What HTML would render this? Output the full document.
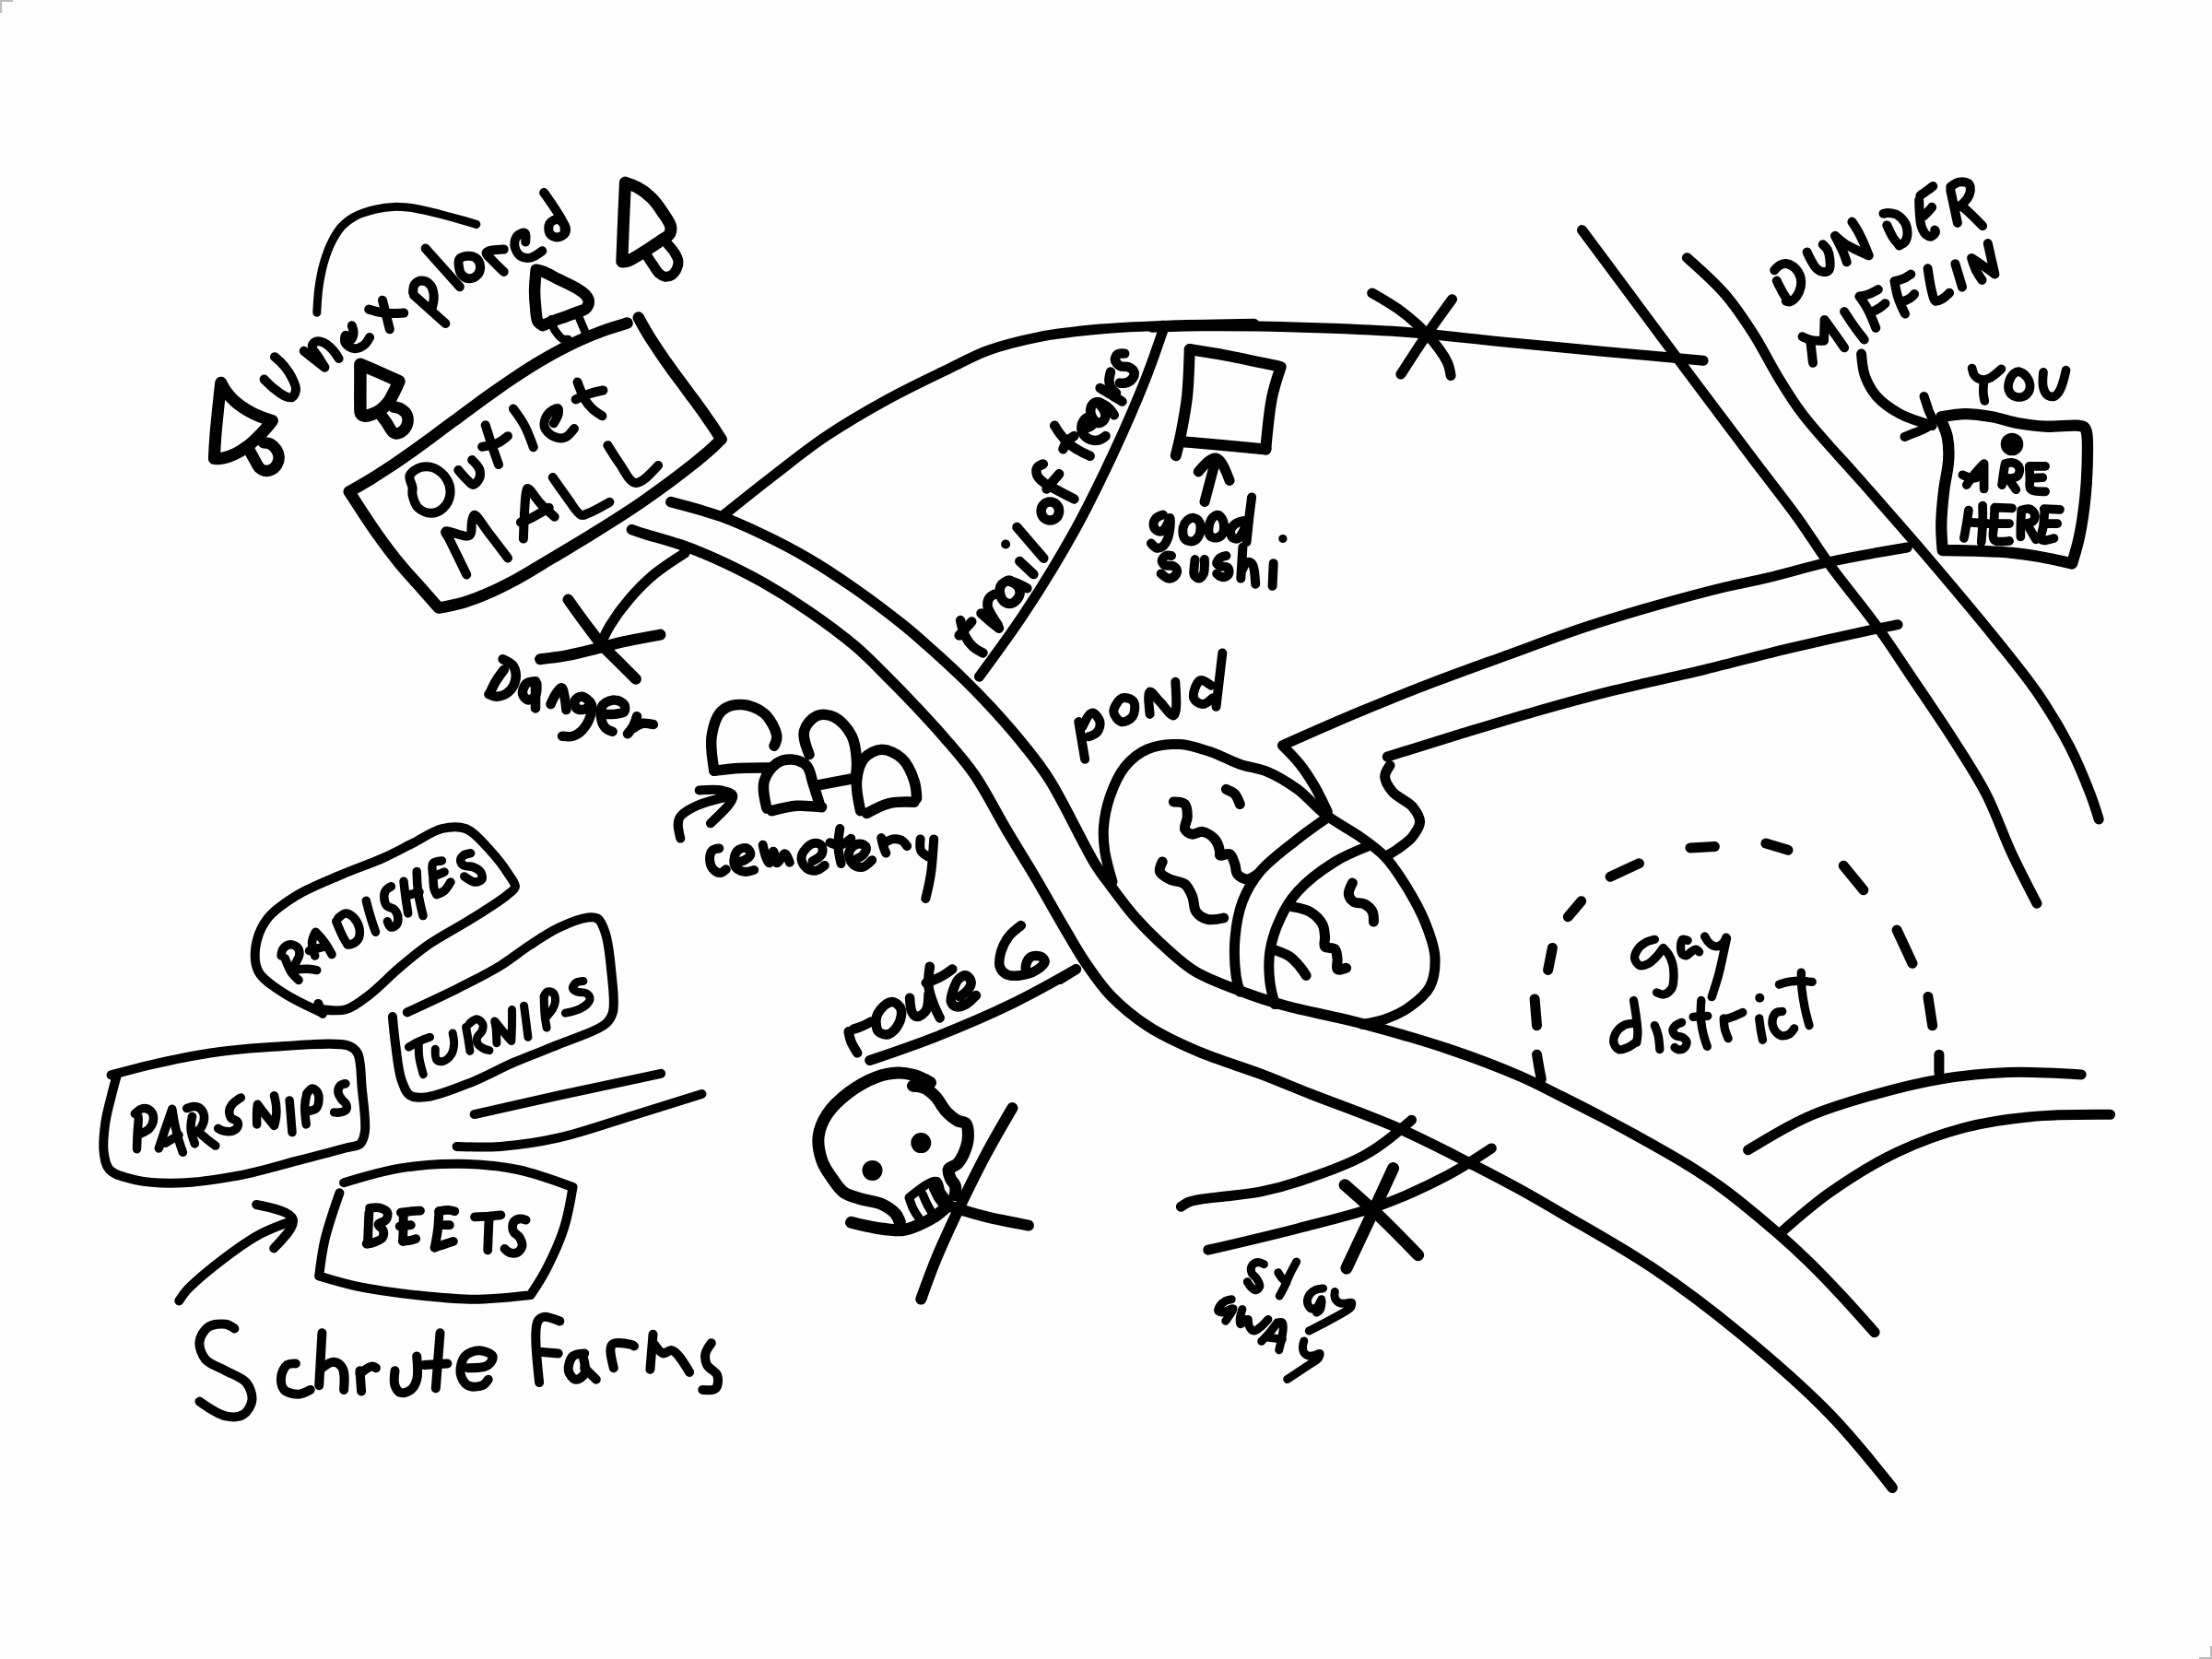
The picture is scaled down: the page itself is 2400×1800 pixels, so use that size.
<!DOCTYPE html>
<html><head><meta charset="utf-8"><style>
html,body{margin:0;padding:0;background:#fefefe;}
body{width:2400px;height:1800px;overflow:hidden;position:relative;font-family:"Liberation Sans",sans-serif;}
svg{position:absolute;left:0;top:0;}
</style></head><body>
<svg width="2400" height="1800" viewBox="0 0 2400 1800" xmlns="http://www.w3.org/2000/svg">
<rect x="0" y="0" width="2400" height="1800" fill="#fefefe"/>
<g fill="none" stroke="#bdbdbd" stroke-width="2"><path d="M1,14V1H14"/><path d="M2386,1799H2399V1786"/></g>
<g fill="none" stroke="#000" stroke-linecap="round" stroke-linejoin="round">
<path d="M239.7,415.2C241.1,418.0 242.6,420.9 244.7,423.9C247.4,427.6 251.0,432.0 254.8,435.4C258.7,439.0 263.3,442.1 267.9,444.8C272.5,447.6 277.6,450.1 282.3,452.1C286.7,453.9 291.0,455.2 295.4,456.4C293.6,458.7 291.9,461.0 289.6,463.7C286.6,467.1 282.4,471.7 278.7,475.2C275.2,478.6 271.8,481.8 267.9,484.6C263.8,487.6 259.2,490.5 254.8,492.6C250.8,494.5 246.5,496.1 242.5,496.9C239.1,497.7 235.7,497.7 232.4,497.6C232.7,490.1 233.1,482.5 233.9,472.3C235.1,457.1 237.4,436.1 239.7,415.2Z" stroke-width="13"/>
<path d="M270.0,487.5C271.7,490.6 273.3,493.7 275.1,496.9C277.1,500.4 279.3,505.5 281.6,507.8C283.2,509.3 284.8,510.3 286.7,510.7C288.8,511.1 291.7,510.9 293.9,509.9C296.3,508.9 299.0,506.5 300.4,504.2C301.9,501.7 302.7,498.3 302.6,495.5C302.4,492.7 301.2,489.8 299.7,487.5C298.1,485.2 295.6,482.9 293.2,481.7C291.0,480.6 288.5,480.5 285.9,480.3" stroke-width="12.5"/>
<path d="M390.9,395.2C397.6,398.0 404.3,400.9 411.2,403.9C418.3,407.0 425.6,410.3 432.9,413.6C431.6,416.8 430.2,420.0 428.5,423.4C426.5,427.5 424.1,432.7 421.3,436.4C418.7,439.8 415.7,442.9 412.6,445.1C409.9,447.1 406.8,448.4 403.9,449.4C401.3,450.4 398.2,451.6 396.0,451.2C394.3,451.0 392.6,450.2 391.6,448.7C390.3,446.5 391.1,442.1 390.9,437.9C390.7,431.9 390.9,423.3 390.9,416.2C390.9,409.1 390.9,402.2 390.9,395.2Z" stroke-width="13.5"/>
<path d="M412.6,449.4C414.8,452.3 417.0,455.1 419.1,458.1C421.4,461.3 423.4,466.2 425.6,468.2C427.1,469.5 428.3,470.4 430.0,470.4C432.2,470.5 435.9,468.7 437.9,466.8C440.0,464.9 441.7,461.6 442.3,458.8C442.8,456.1 442.7,452.7 441.5,450.2C440.4,447.6 437.5,445.1 435.0,443.7C432.7,442.3 429.9,441.9 427.1,441.5" stroke-width="12.5"/>
<path d="M581.7,292.7C584.2,293.2 586.8,293.7 589.8,294.9C594.2,296.6 599.8,299.9 605.2,302.6C611.4,305.7 619.6,309.1 625.1,312.5C629.4,315.2 633.7,317.7 635.9,320.7C637.7,322.9 639.0,325.5 638.8,327.9C638.7,330.4 636.8,333.5 635.0,335.2C633.4,336.7 631.3,336.8 628.7,337.9C624.9,339.4 619.2,341.5 614.2,343.3C609.2,345.1 603.4,346.9 598.9,348.7C595.2,350.2 592.1,351.7 588.9,353.2C586.9,352.1 584.8,351.0 583.5,348.7C581.7,345.5 581.8,339.4 581.2,334.2C580.6,328.6 580.1,322.6 580.1,316.2C580.1,308.8 580.9,300.8 581.7,292.7Z" stroke-width="12.5"/>
<path d="M598.4,346.5C598.8,349.4 599.1,352.4 600.2,355.0C601.4,357.8 603.4,360.5 605.2,362.7C606.9,364.7 608.6,366.8 610.6,367.7C612.4,368.5 614.5,368.3 616.5,368.2" stroke-width="9"/>
<path d="M627.8,343.3C629.4,347.0 630.9,350.8 632.3,354.1C633.6,357.0 634.7,359.7 635.8,362.3" stroke-width="9"/>
<path d="M678.4,198.1C682.6,199.4 686.8,200.7 691.1,203.1C696.2,205.8 701.9,209.9 706.5,214.4C711.3,219.0 715.5,225.1 719.1,230.6C722.5,235.7 727.0,241.6 727.7,246.0C728.2,249.0 727.7,251.9 726.4,254.1C724.9,256.5 722.6,257.2 719.1,259.6C711.5,264.8 688.7,280.3 681.2,283.1C678.3,284.1 676.6,284.0 674.8,284.0C675.4,268.7 676.0,253.4 676.6,238.8C677.2,224.9 677.8,211.5 678.4,198.1Z" stroke-width="13"/>
<path d="M702.0,277.6C704.4,281.4 706.8,285.1 709.2,288.5C711.3,291.6 713.1,295.1 715.5,297.1C717.4,298.7 719.6,300.0 721.8,300.3C724.1,300.5 727.0,299.8 729.1,298.4C731.3,296.9 733.4,293.8 734.5,291.2C735.6,288.7 736.2,285.8 735.9,283.1C735.5,280.1 733.6,276.9 731.8,274.0C729.9,270.9 727.2,267.9 724.6,265.0" stroke-width="11"/>
<path d="M343.8,339.2C344.2,330.2 344.7,321.1 345.9,312.1C347.2,303.0 348.9,293.6 351.4,285.0C353.8,276.8 356.8,268.4 360.4,261.5C363.6,255.4 366.9,249.8 371.3,245.2C375.4,240.8 380.2,237.3 385.7,234.4C392.0,231.1 400.3,228.8 407.4,227.1C414.1,225.6 420.4,224.6 427.3,224.4C434.8,224.2 442.8,225.0 450.8,226.2C459.6,227.6 469.3,230.4 478.0,232.5C486.1,234.6 494.5,236.9 501.5,238.9C507.1,240.5 512.0,241.9 516.8,243.4" stroke-width="9"/>
<path d="M298.0,387.2C301.5,390.1 304.9,393.1 308.0,396.7C311.2,400.6 314.5,405.3 316.7,409.8C318.7,413.9 321.2,418.6 321.0,422.4C320.8,425.6 319.2,430.0 317.0,431.1C315.0,432.2 311.7,430.8 308.9,429.7C305.2,428.1 300.8,424.5 297.1,421.5C293.4,418.5 290.0,415.0 286.6,411.6" stroke-width="10"/>
<path d="M352.3,398.6C349.1,396.0 345.8,393.5 342.3,390.8C338.4,387.7 334.0,384.3 329.7,380.8" stroke-width="10"/>
<path d="M352.3,398.6C350.2,395.1 348.1,391.7 345.9,388.1C343.6,384.3 338.7,379.5 338.7,376.3C338.8,374.1 340.5,371.7 342.3,370.9C344.5,369.9 348.5,370.6 351.4,371.8C354.6,373.1 357.7,376.2 360.4,379.0C363.2,381.9 365.4,385.4 367.6,389.0" stroke-width="10"/>
<path d="M381.8,353.3C382.8,356.1 383.8,358.9 383.6,361.5C383.4,364.0 382.1,368.2 380.7,368.5C379.3,368.9 376.3,363.2 375.2,363.7C374.1,364.1 373.4,369.5 374.5,371.8C375.8,374.5 380.6,377.7 383.9,378.1C387.3,378.6 391.9,376.6 394.8,374.5C397.6,372.5 399.3,369.2 401.1,366.0" stroke-width="10"/>
<path d="M415.0,325.7L422.8,357.3" stroke-width="10"/>
<path d="M400.2,335.6C405.2,337.1 410.2,338.5 414.7,339.2C418.5,339.9 421.8,340.1 425.5,340.1C429.6,340.2 433.9,339.9 438.2,339.6" stroke-width="10"/>
<path d="M449.0,320.3L483.4,351.0" stroke-width="10"/>
<path d="M448.1,317.5C448.2,314.1 448.3,310.7 449.9,308.5C451.6,306.3 455.3,304.5 458.1,304.5C461.0,304.6 465.0,306.8 467.1,309.4C469.4,312.2 470.4,317.1 470.7,321.2C471.0,325.3 470.0,329.5 468.9,333.8" stroke-width="10"/>
<path d="M461.7,269.6L498.8,311.2" stroke-width="10"/>
<path d="M498.2,281.4C499.6,279.3 503.9,278.1 506.9,277.8C509.8,277.5 513.6,277.9 515.9,279.6C518.4,281.4 520.7,285.5 521.0,288.6C521.3,291.8 519.9,296.3 517.7,298.6C515.7,300.7 511.6,302.4 508.7,302.2C505.9,302.0 502.4,299.9 500.6,297.6C498.7,295.4 498.2,291.5 497.8,288.6C497.5,286.1 497.0,283.2 498.2,281.4Z" stroke-width="10"/>
<path d="M546.7,294.9C542.9,291.3 539.1,287.7 535.8,284.1C532.8,280.8 526.9,276.4 527.7,274.1C528.7,271.4 537.7,270.9 546.7,270.5" stroke-width="10"/>
<path d="M570.2,262.4C570.5,258.1 570.9,253.8 569.3,252.8C567.7,251.9 563.0,254.0 561.1,256.1C559.1,258.4 557.9,263.4 558.4,266.9C559.0,270.6 561.7,275.7 564.8,277.8C567.6,279.7 572.0,280.2 575.6,279.6C579.8,278.8 584.0,275.6 588.3,272.3" stroke-width="10"/>
<path d="M590.1,209.0C599.6,222.4 609.1,235.7 611.8,243.4C613.0,246.9 612.8,249.2 612.7,251.5" stroke-width="10"/>
<path d="M596.4,242.5C597.8,240.1 601.9,237.8 604.5,238.0C607.3,238.2 611.3,241.7 612.7,244.3C613.9,246.7 614.4,250.6 613.2,252.8C611.9,255.1 607.4,257.5 604.5,257.5C601.8,257.5 597.8,255.7 596.4,253.3C594.9,250.8 594.9,245.1 596.4,242.5Z" stroke-width="10"/>
<path d="M447.5,528.9C447.1,525.1 443.2,519.6 444.5,516.0C445.9,512.2 452.0,508.4 456.5,507.0C461.0,505.7 466.8,506.1 471.4,508.0C476.5,510.3 482.5,515.9 485.3,521.0C487.9,525.6 489.0,531.9 488.3,536.9C487.6,541.8 484.9,547.5 481.3,550.8C477.9,554.1 472.1,556.8 467.4,556.8C462.8,556.8 456.8,554.1 453.5,550.8C450.2,547.5 448.4,540.9 447.5,536.9C446.9,533.9 447.9,531.9 447.5,528.9Z" stroke-width="10"/>
<path d="M497.3,510.0C500.7,514.1 504.2,518.1 507.2,521.0C509.4,523.0 511.1,526.0 513.2,525.9C515.4,525.8 519.0,521.8 520.1,519.0C521.3,516.1 521.2,512.2 520.1,509.0C518.9,505.5 515.5,502.3 512.2,499.1" stroke-width="10"/>
<path d="M526.7,461.3C529.6,470.4 532.4,479.5 535.0,487.1C537.2,493.4 539.1,498.7 541.0,504.1" stroke-width="10"/>
<path d="M523.1,484.8C528.7,484.0 534.3,483.2 539.0,481.2C543.5,479.3 547.2,476.2 551.0,473.2" stroke-width="10"/>
<path d="M556.9,443.4C561.1,449.0 565.3,454.7 568.9,461.3C572.7,468.5 575.8,476.8 578.8,485.2" stroke-width="10"/>
<path d="M600.7,459.3C602.9,455.8 605.1,452.4 605.7,449.3C606.1,447.1 606.2,443.6 605.1,443.0C603.4,442.2 596.1,446.9 593.7,450.3C591.4,453.7 589.7,459.5 590.7,463.3C591.8,467.2 596.8,471.7 600.7,473.6C604.2,475.3 609.0,476.0 612.6,474.8C616.5,473.5 619.8,469.2 623.0,464.9" stroke-width="10"/>
<path d="M626.5,414.5C629.0,421.4 631.5,428.3 634.5,433.4C636.9,437.5 639.4,440.4 642.5,443.4C645.6,446.4 649.5,448.9 653.4,451.3" stroke-width="10"/>
<path d="M624.6,433.4C629.1,431.3 633.6,429.1 638.5,427.5C643.5,425.8 649.0,424.6 654.4,423.5" stroke-width="10"/>
<path d="M506.2,623.4C498.7,608.0 491.3,592.7 487.3,584.6C485.5,581.0 482.3,578.0 483.3,576.7C485.1,574.3 504.7,584.2 509.2,581.0C512.8,578.5 510.9,568.8 512.2,564.7C512.9,562.2 513.3,558.9 514.8,558.8C517.5,558.4 523.8,569.9 529.1,576.7C535.7,585.1 543.3,595.3 551.0,605.5" stroke-width="10"/>
<path d="M567.9,584.6C568.6,563.7 569.4,542.8 570.8,534.9C571.3,532.3 571.3,530.1 572.4,529.9C574.7,529.5 581.8,541.6 586.8,546.8C591.5,551.8 596.6,556.3 601.7,560.7" stroke-width="10"/>
<path d="M564.9,566.7C569.5,564.9 574.0,563.2 578.8,560.7C584.3,558.0 590.0,554.4 595.7,550.8" stroke-width="10"/>
<path d="M599.7,518.0C604.6,525.0 609.5,532.1 614.6,538.9C619.7,545.6 625.6,557.1 630.5,558.8C633.3,559.7 635.2,558.0 638.5,556.8C644.2,554.6 652.8,549.7 661.4,544.8" stroke-width="10"/>
<path d="M659.4,483.2C663.4,489.8 667.5,496.5 672.3,503.1C677.4,510.1 682.6,523.1 689.2,523.9C696.3,524.8 705.2,514.9 714.1,505.0" stroke-width="10"/>
<path d="M774.9,836.3C772.7,823.1 770.4,809.8 772.2,798.4C773.8,788.4 777.0,776.8 783.1,771.2C788.4,766.3 797.4,764.2 804.8,764.5C812.7,764.7 822.9,768.5 829.2,774.0C835.7,779.6 841.9,791.7 842.7,798.4C843.3,802.6 841.7,805.9 840.0,809.2" stroke-width="11.5"/>
<path d="M774.9,836.3C783.7,835.3 792.5,834.2 802.1,833.6C812.7,833.0 824.3,833.1 836.0,833.1" stroke-width="11.5"/>
<path d="M878.0,818.7C874.4,809.5 870.8,800.2 872.6,792.9C874.2,786.4 880.5,779.1 886.1,776.7C891.5,774.4 899.3,775.2 905.1,778.0C912.2,781.4 920.1,790.4 924.1,798.4C928.2,806.3 929.0,817.2 929.5,825.5C930.0,832.4 929.1,838.4 928.2,844.5" stroke-width="11.5"/>
<path d="M883.4,852.6L926.8,844.5" stroke-width="11.5"/>
<path d="M831.9,877.0C829.4,866.4 826.9,855.7 829.2,847.2C831.2,839.7 837.2,832.0 842.7,828.2C847.4,825.0 853.7,823.7 859.0,824.1C864.5,824.6 871.5,826.9 875.3,830.9C879.4,835.2 879.9,843.3 882.1,849.9C884.4,856.9 886.6,864.2 888.9,871.6" stroke-width="11.5"/>
<path d="M837.3,879.7C846.3,877.4 855.4,875.0 864.4,874.3C873.4,873.7 882.5,874.7 891.6,875.7" stroke-width="11.5"/>
<path d="M933.6,879.7C931.1,868.5 928.6,857.2 929.5,847.2C930.4,838.4 932.7,828.5 937.7,822.8C942.2,817.6 950.1,813.5 956.7,813.3C963.6,813.1 972.6,817.5 978.4,822.8C984.6,828.5 989.3,839.3 991.9,847.2C994.1,853.7 994.4,859.9 994.6,866.2" stroke-width="11.5"/>
<path d="M940.4,882.5C948.3,878.1 956.3,873.6 964.8,871.6C973.4,869.6 982.7,869.9 991.9,870.3" stroke-width="11.5"/>
<path d="M738.3,909.6C736.3,901.6 734.2,893.7 737.0,887.9C739.8,881.9 748.1,878.1 755.9,874.3C766.1,869.4 780.0,866.4 793.9,863.5" stroke-width="10"/>
<path d="M758.7,857.5C767.6,856.7 776.5,856.0 783.1,857.5C788.0,858.6 794.5,860.0 795.3,863.5C796.5,869.3 783.7,881.3 770.9,893.3" stroke-width="10"/>
<path d="M785.8,558.4C804.3,543.5 822.9,528.7 841.4,514.4C859.5,500.5 876.2,486.8 895.6,473.8C916.6,459.6 940.6,445.6 963.4,433.1C985.8,420.8 1011.5,408.7 1031.2,399.2C1046.5,391.8 1057.1,385.5 1071.9,380.2C1088.5,374.2 1107.0,369.6 1126.2,365.8C1147.4,361.7 1171.4,359.2 1194.0,357.1C1216.6,355.1 1237.1,354.3 1261.8,353.3C1291.7,352.2 1326.3,351.7 1360.8,351.2" stroke-width="11"/>
<path d="M1062.4,734.2C1079.2,711.5 1096.0,688.9 1112.6,663.6C1130.9,635.9 1150.6,603.6 1166.9,574.1C1182.0,546.7 1194.8,520.0 1207.6,492.7C1220.1,465.8 1233.0,436.2 1242.8,411.4C1250.9,390.8 1257.0,372.6 1263.2,354.4" stroke-width="11"/>
<path d="M1250.0,355.2C1266.5,354.5 1283.1,353.9 1304.2,353.8C1334.2,353.6 1376.6,354.1 1412.7,355.2C1448.9,356.2 1485.1,357.4 1521.2,360.0C1557.5,362.7 1593.6,367.4 1629.7,370.9C1665.9,374.4 1702.0,377.8 1738.2,381.2C1774.7,384.6 1811.4,387.9 1848.1,391.2" stroke-width="11"/>
<path d="M1488.7,318.0C1499.9,324.4 1511.2,330.8 1521.2,338.3C1531.0,345.7 1540.3,353.7 1548.4,362.7C1556.5,371.8 1566.0,384.0 1570.1,392.6C1572.7,398.1 1573.4,402.8 1574.1,407.5" stroke-width="11"/>
<path d="M1575.5,324.8C1566.4,337.2 1557.4,349.6 1548.4,362.7C1538.9,376.6 1529.4,391.4 1519.9,406.1" stroke-width="11"/>
<path d="M1290.7,379.0C1303.7,381.0 1316.6,383.0 1331.4,385.8C1349.1,389.1 1369.4,393.6 1389.7,398.0C1386.2,408.5 1382.6,419.0 1380.2,430.6C1377.5,443.3 1375.9,460.7 1374.8,471.2C1374.1,477.9 1373.7,482.7 1373.4,487.5" stroke-width="12"/>
<path d="M1290.7,379.0C1290.2,396.7 1289.7,414.4 1288.0,430.6C1286.4,445.0 1283.5,459.6 1281.2,471.2C1279.4,480.1 1277.6,487.2 1275.8,494.3" stroke-width="12"/>
<path d="M1285.3,479.4C1300.8,480.7 1316.4,482.1 1331.4,483.5C1345.7,484.8 1359.6,486.2 1373.4,487.5" stroke-width="12"/>
<path d="M1307.0,544.5L1319.2,498.4" stroke-width="11"/>
<path d="M1300.2,511.9C1306.9,504.0 1313.7,496.0 1319.2,497.0C1325.1,498.1 1329.6,509.8 1334.1,521.4" stroke-width="11"/>
<path d="M2019.6,384.1C2020.2,392.2 2020.8,400.3 2023.4,407.8C2026.2,415.6 2030.3,423.4 2036.1,430.0C2042.5,437.3 2051.9,443.8 2061.4,449.0C2071.7,454.6 2084.0,458.1 2096.2,461.6" stroke-width="11"/>
<path d="M1207.0,956.7C1203.7,945.6 1200.4,934.6 1198.8,924.1C1197.4,914.7 1196.7,906.4 1197.5,897.0C1198.3,886.6 1200.6,875.1 1204.2,864.4C1208.1,853.3 1213.3,840.7 1220.5,831.9C1227.2,823.8 1235.4,817.0 1244.9,812.9C1255.1,808.5 1268.7,807.0 1280.2,807.5C1291.3,808.0 1302.0,812.1 1312.7,815.6C1323.7,819.3 1334.6,825.5 1345.3,829.2C1355.3,832.6 1365.2,833.2 1375.1,837.3C1386.1,841.9 1397.4,848.8 1407.7,856.3C1418.3,864.1 1426.6,875.1 1437.5,883.4C1449.1,892.3 1464.1,899.7 1475.5,907.8C1485.5,915.0 1494.6,921.1 1502.6,929.5C1510.9,938.2 1517.4,948.4 1524.3,959.4C1532.0,971.7 1540.5,986.5 1546.0,1000.1C1551.1,1012.7 1556.2,1025.8 1556.9,1038.0C1557.5,1049.2 1556.2,1061.5 1551.4,1070.6C1546.9,1079.4 1537.9,1086.4 1529.7,1092.3C1521.6,1098.1 1511.6,1102.7 1502.6,1105.9C1494.4,1108.8 1486.3,1110.0 1478.2,1111.3" stroke-width="11"/>
<path d="M1437.5,888.9C1427.9,895.5 1418.2,902.2 1407.7,910.6C1395.0,920.7 1377.3,933.4 1367.0,945.8C1358.4,956.2 1352.5,966.5 1348.0,978.4C1343.3,990.8 1341.0,1005.4 1339.9,1019.1C1338.8,1032.6 1339.8,1049.3 1341.2,1059.7C1342.2,1066.5 1343.7,1071.2 1345.3,1076.0" stroke-width="11"/>
<path d="M1486.3,917.3C1473.6,922.3 1460.8,927.3 1448.4,935.0C1434.5,943.6 1418.0,956.0 1407.7,967.5C1399.2,977.0 1393.6,986.6 1388.7,997.4C1383.6,1008.3 1379.6,1021.0 1377.8,1032.6C1376.2,1043.6 1376.7,1055.2 1377.8,1065.2C1378.8,1074.0 1381.0,1081.8 1383.3,1089.6" stroke-width="11"/>
<path d="M1508.0,830.5C1505.3,834.5 1502.5,838.4 1502.6,842.7C1502.7,847.8 1506.6,854.0 1510.8,859.0C1515.8,865.1 1527.4,869.2 1532.5,875.3C1536.6,880.3 1540.6,886.1 1540.6,891.6C1540.6,897.0 1536.3,903.0 1532.5,907.8C1528.3,913.1 1521.5,917.6 1516.2,921.4C1511.6,924.7 1507.1,927.1 1502.6,929.5" stroke-width="11"/>
<path d="M1273.4,869.9C1278.3,870.0 1283.1,870.0 1285.6,872.6C1288.3,875.3 1288.3,881.6 1288.3,886.1C1288.3,890.7 1284.3,896.5 1285.6,899.7C1286.8,902.4 1290.7,904.6 1293.8,905.1C1297.0,905.7 1300.9,901.9 1304.6,902.4C1309.0,903.1 1315.0,906.8 1318.2,910.6C1321.2,914.1 1323.0,920.9 1323.6,924.1C1323.9,925.8 1322.8,927.5 1323.6,928.2C1325.0,929.4 1331.8,925.4 1334.4,926.8C1337.3,928.4 1338.5,934.0 1339.9,937.7C1341.2,941.2 1340.4,945.8 1342.6,948.5C1344.8,951.3 1349.8,954.0 1353.4,954.0C1357.1,954.0 1360.7,951.2 1364.3,948.5" stroke-width="11"/>
<path d="M1330.4,856.3C1333.9,857.7 1337.4,859.1 1339.9,861.7C1342.5,864.5 1343.9,868.5 1345.3,872.6" stroke-width="11"/>
<path d="M1261.2,935.0C1259.3,938.9 1257.4,942.8 1258.5,945.8C1259.7,949.2 1265.2,951.8 1269.3,954.0C1274.1,956.4 1281.5,956.1 1285.6,959.4C1289.6,962.5 1291.7,968.1 1293.8,972.9C1295.8,978.0 1294.9,985.1 1297.8,989.2C1300.5,993.1 1305.4,996.1 1310.0,997.4C1315.2,998.7 1321.4,997.4 1327.7,996.0" stroke-width="11"/>
<path d="M1467.4,958.0C1465.1,962.4 1462.8,966.7 1463.3,970.2C1463.7,973.3 1466.1,976.6 1468.7,978.4C1471.7,980.4 1477.5,979.2 1480.9,981.1C1484.2,982.9 1487.5,986.0 1489.1,989.2C1490.6,992.4 1490.5,996.2 1490.4,1000.1" stroke-width="11"/>
<path d="M1402.3,983.8C1409.0,984.9 1415.8,986.0 1421.2,989.2C1426.6,992.4 1432.2,997.8 1434.8,1002.8C1437.1,1007.0 1437.1,1012.1 1437.5,1016.3C1437.9,1020.1 1435.8,1024.9 1437.5,1027.2C1439.3,1029.5 1446.1,1027.6 1448.4,1029.9C1450.6,1032.2 1450.6,1037.1 1451.1,1040.8C1451.5,1044.3 1449.4,1050.1 1451.1,1051.6C1452.7,1053.0 1456.6,1051.6 1460.6,1050.3" stroke-width="11"/>
<path d="M1380.6,1029.9C1387.5,1032.2 1394.4,1034.5 1399.5,1038.0C1404.0,1041.1 1407.3,1045.3 1410.4,1048.9C1413.1,1052.1 1415.1,1055.2 1417.2,1058.4" stroke-width="11"/>
<path d="M1150.0,1062.5L1167.6,1051.6" stroke-width="11"/>
<path d="M1170.3,783.1L1177.1,823.8" stroke-width="10"/>
<path d="M1174.4,788.5C1178.1,781.1 1181.8,773.7 1185.3,773.6C1188.1,773.5 1192.6,779.6 1193.4,783.1C1194.2,786.4 1192.7,791.2 1190.7,793.9C1188.7,796.6 1184.9,798.0 1181.2,799.3" stroke-width="10"/>
<path d="M1208.3,772.2C1208.1,767.7 1213.8,758.7 1217.8,757.3C1221.3,756.1 1228.1,758.4 1230.0,761.4C1232.2,764.7 1231.2,774.0 1228.7,777.6C1226.3,780.9 1219.8,784.0 1216.5,783.1C1213.0,782.2 1208.5,776.2 1208.3,772.2Z" stroke-width="10"/>
<path d="M1247.6,774.9C1246.4,763.3 1245.1,751.6 1247.6,750.5C1249.7,749.7 1254.6,757.5 1258.5,761.4C1263.1,766.0 1270.4,777.5 1273.4,776.3C1277.4,774.8 1276.4,757.2 1275.3,739.7" stroke-width="10"/>
<path d="M1314.1,743.7C1309.5,740.4 1305.0,737.0 1301.9,738.3C1298.1,739.9 1293.7,752.9 1295.1,757.3C1296.2,760.7 1301.3,763.9 1304.6,764.1C1308.2,764.2 1312.1,760.8 1316.0,757.3" stroke-width="10"/>
<path d="M1326.3,708.5L1319.5,766.8" stroke-width="10"/>
<path d="M1310.8,1356.2C1343.8,1348.6 1376.7,1341.0 1408.5,1332.7C1439.3,1324.7 1470.8,1317.6 1498.9,1307.4C1524.7,1298.0 1550.0,1286.1 1571.2,1274.9C1588.9,1265.5 1603.6,1255.7 1618.3,1245.9" stroke-width="11"/>
<path d="M1459.1,1285.7C1471.0,1296.1 1482.9,1306.5 1495.3,1318.3C1509.3,1331.5 1524.0,1346.6 1538.7,1361.7" stroke-width="13"/>
<path d="M1511.6,1267.6C1503.9,1284.2 1496.2,1300.8 1488.1,1318.3C1479.4,1336.9 1470.2,1356.5 1460.9,1376.1" stroke-width="13"/>
<path d="M1896.6,1247.8C1917.7,1234.8 1938.9,1221.7 1961.7,1211.7C1984.7,1201.5 2009.7,1194.4 2034.0,1187.6C2058.0,1180.8 2082.1,1174.7 2106.3,1170.7C2130.3,1166.7 2153.9,1164.3 2178.7,1163.4C2204.5,1162.5 2231.4,1164.2 2258.2,1165.9" stroke-width="11"/>
<path d="M1932.7,1337.0C1949.5,1322.2 1966.2,1307.4 1985.8,1293.6C2007.5,1278.3 2033.4,1262.0 2058.1,1250.2C2081.7,1239.0 2106.0,1230.2 2130.4,1223.7C2154.3,1217.4 2177.5,1214.1 2202.8,1211.7C2230.3,1209.0 2259.9,1209.1 2289.6,1209.3" stroke-width="11"/>
<path d="M1667.5,1144.2C1668.3,1149.1 1669.1,1154.0 1669.9,1158.6C1670.7,1162.8 1671.5,1166.8 1672.3,1170.7" stroke-width="11"/>
<path d="M1665.1,1083.9L1667.5,1112.8" stroke-width="11"/>
<path d="M1684.4,1028.4L1679.6,1052.5" stroke-width="11"/>
<path d="M1701.3,994.7L1715.7,977.8" stroke-width="11"/>
<path d="M1747.1,951.3L1778.4,936.8" stroke-width="11"/>
<path d="M1833.9,919.9L1860.4,918.5" stroke-width="11"/>
<path d="M1915.9,915.1L1940.0,922.3" stroke-width="11"/>
<path d="M2000.2,939.2L2021.9,965.7" stroke-width="11"/>
<path d="M2058.1,1009.1L2075.0,1045.3" stroke-width="11"/>
<path d="M2091.9,1081.5L2096.7,1112.8" stroke-width="11"/>
<path d="M2103.9,1144.2L2103.9,1163.4" stroke-width="11"/>
<path d="M348.4,1098.4C333.0,1091.4 317.7,1084.4 305.7,1076.2C295.7,1069.4 285.0,1062.7 280.4,1054.1C276.4,1046.5 276.1,1037.5 277.2,1028.7C278.5,1018.6 283.0,1006.3 289.9,997.1C297.3,987.1 309.4,979.3 321.5,971.8C335.3,963.2 353.1,956.5 369.0,949.6C384.7,942.8 402.3,937.0 416.5,930.6C428.2,925.4 437.6,920.1 448.1,914.8C458.6,909.5 469.5,901.4 479.7,899.0C488.4,896.9 497.1,896.0 505.1,899.0C514.2,902.4 522.6,912.9 530.4,921.1C538.5,929.7 547.6,941.8 552.5,949.6C555.6,954.5 559.5,958.6 558.9,962.3C558.3,965.9 553.8,968.1 549.4,971.8C541.1,978.5 524.9,988.6 511.4,997.1C496.6,1006.5 477.9,1015.9 463.9,1025.6C452.0,1033.9 442.7,1042.0 432.3,1050.9C421.6,1060.0 410.9,1071.6 400.6,1079.4C392.0,1085.9 384.1,1092.7 375.3,1095.2C367.2,1097.5 358.6,1096.4 350.0,1095.2" stroke-width="10"/>
<path d="M345.3,1088.9L350.0,1099.9" stroke-width="10"/>
<path d="M425.9,1103.1C426.8,1112.8 427.7,1122.6 429.1,1133.2C430.7,1145.1 432.0,1161.1 435.4,1171.1C437.9,1178.3 440.1,1185.4 444.9,1188.5C449.7,1191.6 456.3,1191.0 463.9,1190.1C476.3,1188.6 495.7,1180.5 511.4,1174.3C527.4,1167.9 542.9,1159.0 558.9,1152.2C574.6,1145.3 590.3,1139.9 606.3,1133.2C623.0,1126.2 647.9,1118.9 657.0,1111.0C661.7,1106.9 663.3,1104.2 664.9,1098.4C667.6,1088.3 664.7,1068.5 663.3,1054.1C662.0,1040.0 660.2,1023.2 657.0,1012.9C654.8,1006.2 652.8,999.8 649.1,997.1C646.1,994.9 642.5,995.1 638.0,995.5C630.1,996.3 616.6,1001.7 606.3,1006.6C595.5,1011.7 585.1,1018.8 574.7,1025.6C564.0,1032.5 554.9,1040.4 543.0,1047.7C529.0,1056.3 512.0,1064.8 495.6,1073.0C478.3,1081.7 460.0,1090.0 441.8,1098.4" stroke-width="10"/>
<path d="M120.6,1166.4C134.1,1162.7 147.6,1158.9 163.3,1155.3C182.3,1151.0 205.4,1145.8 226.6,1142.7C247.6,1139.5 267.0,1137.7 289.9,1136.3C316.9,1134.7 364.3,1129.7 378.5,1134.7C383.8,1136.6 385.6,1138.4 388.0,1142.7C392.1,1150.2 391.4,1167.2 392.7,1180.6C394.2,1195.6 397.5,1217.4 395.9,1228.1C395.0,1233.8 394.2,1237.9 391.1,1240.8C387.7,1244.0 382.2,1243.6 375.3,1245.5C362.7,1249.1 340.2,1254.9 321.5,1259.7C301.3,1265.0 279.4,1271.6 258.2,1275.6C237.2,1279.5 214.5,1282.9 194.9,1283.5C178.0,1284.0 161.1,1283.3 147.5,1280.3C136.6,1277.9 124.7,1275.2 119.0,1269.2C114.4,1264.4 113.6,1257.5 112.7,1250.3C111.4,1241.1 112.8,1229.3 114.2,1218.6C115.8,1207.2 119.8,1193.4 122.2,1183.8C123.9,1177.0 125.4,1171.7 126.9,1166.4" stroke-width="10"/>
<path d="M514.6,1209.1C544.4,1202.3 574.3,1195.6 606.3,1188.5C641.5,1180.8 679.3,1172.8 717.1,1164.8" stroke-width="10"/>
<path d="M495.6,1243.9C510.8,1244.6 526.1,1245.2 543.0,1243.9C562.7,1242.5 584.2,1239.4 606.3,1234.4C631.4,1228.8 659.4,1218.7 685.4,1210.7C711.0,1202.9 736.2,1194.9 761.4,1187.0" stroke-width="10"/>
<path d="M373.1,1283.2C393.5,1277.0 414.0,1270.8 434.8,1267.4C455.6,1264.0 477.0,1262.4 498.1,1262.7C519.2,1262.9 540.8,1264.7 561.4,1269.0C581.9,1273.2 601.7,1280.6 621.5,1288.0C619.1,1302.9 616.7,1317.7 612.0,1332.3C607.3,1347.3 599.7,1363.6 593.0,1376.6C587.5,1387.3 581.6,1396.2 575.6,1405.1C555.1,1407.4 534.6,1409.8 513.9,1409.8C493.0,1409.8 471.7,1407.4 450.6,1405.1C429.5,1402.7 406.1,1399.5 387.3,1395.6C372.1,1392.4 359.1,1388.4 346.2,1384.5C347.7,1371.7 349.3,1358.8 352.5,1344.9C356.3,1329.0 362.3,1311.6 368.4,1294.3" stroke-width="10"/>
<path d="M194.3,1411.4C196.7,1407.5 199.1,1403.7 203.8,1398.7C212.4,1389.6 231.2,1374.3 244.9,1363.9C257.6,1354.4 270.2,1345.4 282.9,1338.6C294.5,1332.5 306.1,1328.4 317.7,1324.4" stroke-width="10"/>
<path d="M278.2,1307.0C296.6,1310.7 315.1,1314.5 317.7,1322.8C320.2,1330.6 308.7,1342.5 297.2,1354.4" stroke-width="10"/>
<path d="M254.4,1441.5C251.6,1439.4 248.8,1437.3 244.9,1436.7C239.8,1435.9 230.7,1436.6 225.9,1439.9C221.3,1443.0 217.1,1450.0 216.5,1455.7C215.8,1461.6 218.6,1469.6 222.8,1474.7C227.5,1480.5 237.6,1483.1 244.9,1487.3C252.3,1491.6 262.4,1494.2 267.1,1500.0C271.3,1505.1 274.1,1513.1 273.4,1519.0C272.8,1524.7 268.6,1531.9 263.9,1534.8C259.2,1537.8 251.7,1537.8 244.9,1536.4C236.1,1534.5 226.3,1527.5 216.5,1520.6" stroke-width="10"/>
<path d="M320.9,1479.4C317.4,1479.3 313.9,1479.2 311.4,1481.0C308.3,1483.3 305.6,1489.2 305.1,1493.7C304.5,1498.2 305.3,1504.7 308.2,1507.9C311.4,1511.3 319.1,1512.8 324.1,1512.7C328.5,1512.5 332.6,1510.2 336.7,1507.9" stroke-width="10"/>
<path d="M349.4,1446.2L346.2,1503.2" stroke-width="10"/>
<path d="M349.4,1484.2C353.8,1480.9 358.2,1477.6 362.0,1477.8C365.5,1478.1 369.5,1480.7 371.5,1484.2C374.4,1489.2 373.8,1498.6 373.1,1507.9" stroke-width="10"/>
<path d="M392.1,1509.5L390.5,1487.3" stroke-width="10"/>
<path d="M390.5,1490.5C395.2,1486.7 399.9,1483.0 403.2,1482.6C405.1,1482.4 406.5,1483.3 407.9,1484.2" stroke-width="10"/>
<path d="M428.5,1487.3C427.7,1493.2 427.0,1499.0 428.5,1503.2C429.7,1506.5 432.0,1510.2 434.8,1511.1C437.8,1512.0 443.0,1510.2 445.9,1507.9C448.9,1505.5 451.0,1501.5 452.2,1496.8C454.0,1490.3 453.1,1480.9 452.2,1471.5" stroke-width="10"/>
<path d="M477.5,1446.2L472.8,1506.3" stroke-width="10"/>
<path d="M460.1,1481.0L485.4,1479.4" stroke-width="10"/>
<path d="M507.6,1484.2C516.5,1484.2 525.4,1484.2 529.7,1481.0C532.8,1478.8 535.4,1474.0 534.5,1471.5C533.4,1468.5 525.1,1465.3 520.3,1465.2C515.1,1465.1 507.9,1467.6 504.4,1471.5C500.7,1475.7 498.8,1485.0 499.7,1490.5C500.4,1495.3 503.7,1501.0 507.6,1503.2C511.6,1505.4 519.6,1504.8 523.4,1503.2C526.3,1502.0 528.0,1499.4 529.7,1496.8" stroke-width="10"/>
<path d="M585.1,1500.0C582.1,1471.3 579.1,1442.6 583.5,1433.5C585.1,1430.4 587.1,1429.3 589.9,1428.8C594.1,1428.0 600.7,1430.8 607.3,1433.5" stroke-width="10"/>
<path d="M585.1,1466.8L605.7,1468.4" stroke-width="10"/>
<path d="M634.2,1468.4C629.3,1468.6 624.4,1468.8 621.5,1471.5C618.3,1474.6 615.9,1482.9 616.8,1487.3C617.6,1491.2 621.7,1496.4 624.7,1496.8C627.5,1497.2 632.6,1493.8 634.2,1490.5C636.3,1486.2 634.4,1478.9 632.6,1471.5" stroke-width="10"/>
<path d="M634.2,1484.2L646.8,1496.8" stroke-width="10"/>
<path d="M665.8,1484.2C663.2,1473.5 660.5,1462.9 664.2,1458.9C667.6,1455.3 681.0,1458.0 684.8,1458.9C686.4,1459.2 687.2,1459.8 688.0,1460.4" stroke-width="10"/>
<path d="M705.4,1485.8L708.5,1447.8" stroke-width="10"/>
<path d="M710.1,1458.9C713.2,1463.2 716.2,1467.5 719.6,1468.4C722.6,1469.1 725.8,1464.2 729.1,1465.2C734.9,1466.9 741.5,1477.9 748.1,1488.9" stroke-width="10"/>
<path d="M771.8,1457.3C769.1,1460.8 766.3,1464.4 765.5,1468.4C764.7,1472.3 765.2,1477.2 767.1,1481.0C769.1,1485.2 776.6,1487.7 778.2,1492.1C779.6,1496.2 779.2,1503.7 776.6,1506.3C773.9,1509.0 768.1,1508.4 762.3,1507.9" stroke-width="10"/>
<path d="M743.0,600.0C731.7,607.2 720.3,614.3 710.1,622.8C700.0,631.2 690.5,641.0 682.3,650.6C674.6,659.6 667.3,669.7 662.0,678.5C657.7,685.6 654.8,692.2 651.9,698.7" stroke-width="11"/>
<path d="M616.5,650.6C623.3,660.2 630.1,669.7 636.7,678.5C642.7,686.5 648.5,694.6 654.4,701.3C659.5,707.0 664.2,711.0 669.6,716.5C675.9,722.7 682.9,729.7 689.9,736.7" stroke-width="12"/>
<path d="M586.1,715.2C595.2,714.2 604.3,713.2 613.9,711.4C624.5,709.5 636.1,706.4 646.8,703.8C657.2,701.3 666.4,698.6 677.2,696.2C689.4,693.5 702.9,691.1 716.5,688.6" stroke-width="12"/>
<path d="M546.8,726.6C543.7,730.8 540.5,734.9 538.0,739.2C535.5,743.4 533.6,747.6 531.6,751.9" stroke-width="10.5"/>
<path d="M545.6,715.2C550.1,717.2 554.6,719.2 557.0,722.8C559.3,726.4 560.2,732.2 559.5,736.7C558.7,741.5 555.5,747.5 551.9,750.6C548.6,753.6 543.1,755.5 539.2,755.7C536.1,755.9 533.2,754.5 530.4,753.2" stroke-width="10.5"/>
<path d="M581.0,739.2C577.1,739.4 573.2,739.6 570.9,741.8C568.4,744.1 566.4,750.1 567.1,753.2C567.7,755.8 571.1,759.3 573.4,759.5C575.7,759.7 579.5,757.0 581.0,754.4C582.8,751.4 582.6,746.6 582.3,741.8" stroke-width="10.5"/>
<path d="M581.0,744.3L581.0,768.4" stroke-width="10.5"/>
<path d="M597.5,764.1C599.5,759.5 601.5,755.0 603.8,751.9C605.5,749.5 607.9,746.0 609.4,746.3C611.1,746.7 611.8,753.2 612.7,757.0C613.6,761.1 614.0,765.6 614.4,770.1" stroke-width="10.5"/>
<path d="M640.5,762.0C637.5,759.0 634.6,755.9 631.6,755.7C629.1,755.5 625.1,757.4 624.1,759.5C622.9,761.6 623.6,766.7 625.3,768.4C627.0,770.0 631.4,770.2 634.2,769.6C636.9,769.0 640.6,763.8 641.8,764.6C643.2,765.4 641.9,773.0 640.5,777.2C638.9,782.2 635.2,788.7 631.6,792.4C628.7,795.4 625.2,797.7 621.5,798.7C618.0,799.8 614.0,799.2 610.1,798.7" stroke-width="10.5"/>
<path d="M651.9,774.7C657.2,775.0 662.6,775.2 667.1,774.7C670.8,774.2 675.7,774.1 677.2,772.2C678.5,770.5 678.5,766.6 677.2,764.6C675.7,762.1 670.7,759.6 667.1,759.5C663.1,759.3 657.0,761.5 654.4,764.6C652.0,767.5 651.5,773.1 651.9,777.2C652.3,781.5 654.4,787.1 657.0,789.9C659.0,792.0 661.8,792.9 664.6,793.7" stroke-width="10.5"/>
<path d="M681.0,796.2C683.3,793.4 685.7,790.5 687.3,787.3C689.0,784.2 690.1,780.7 691.1,777.2" stroke-width="10.5"/>
<path d="M687.3,789.9C690.6,787.7 693.9,785.4 697.5,784.8C701.1,784.2 705.0,785.1 708.9,786.1" stroke-width="10.5"/>
<path d="M943.7,1150.5C967.4,1142.5 991.1,1134.5 1015.6,1124.8C1042.1,1114.3 1071.1,1102.1 1097.0,1089.5C1121.6,1077.6 1144.6,1064.6 1167.5,1051.5" stroke-width="11"/>
<path d="M930.2,1142.4C927.6,1138.3 925.0,1134.3 923.4,1130.2C922.0,1126.6 921.3,1123.0 920.7,1119.3" stroke-width="10.5"/>
<path d="M926.1,1116.6C928.7,1115.9 931.4,1115.1 934.2,1113.9C937.7,1112.5 941.4,1110.5 945.1,1108.5" stroke-width="10.5"/>
<path d="M961.4,1089.5C957.7,1092.0 952.4,1098.0 951.1,1103.1C949.8,1108.0 950.5,1116.3 953.2,1119.3C955.5,1121.9 960.7,1123.0 964.1,1122.1C968.0,1121.0 972.7,1115.6 974.9,1111.2C977.3,1106.6 979.1,1099.1 977.6,1094.9C976.5,1091.5 972.4,1088.1 969.5,1087.3C967.0,1086.7 964.0,1087.8 961.4,1089.5Z" stroke-width="10.5"/>
<path d="M987.1,1082.7C987.5,1089.2 987.8,1095.6 989.9,1099.0C991.2,1101.2 993.2,1103.1 995.3,1103.1C998.0,1103.1 1002.7,1099.7 1004.8,1096.3C1007.3,1092.1 1007.4,1085.4 1007.5,1078.7" stroke-width="10.5"/>
<path d="M1008.8,1048.8C1007.8,1056.2 1006.7,1063.6 1007.5,1070.5C1008.2,1077.1 1010.8,1083.6 1012.9,1089.5C1014.9,1094.9 1017.3,1099.6 1019.7,1104.4" stroke-width="10.5"/>
<path d="M1004.8,1066.5C1010.5,1064.4 1016.1,1062.3 1021.0,1059.7C1025.5,1057.3 1029.4,1054.4 1033.3,1051.5" stroke-width="10.5"/>
<path d="M1041.4,1081.4C1045.1,1078.8 1048.9,1076.3 1050.9,1073.2C1052.6,1070.7 1054.0,1067.6 1053.6,1065.1C1053.2,1062.6 1050.4,1058.8 1048.2,1058.3C1045.9,1057.8 1042.2,1060.2 1040.0,1062.4C1037.5,1064.9 1036.0,1069.3 1034.6,1073.2C1033.2,1077.4 1030.9,1083.5 1031.9,1086.8C1032.6,1089.3 1035.0,1091.6 1037.3,1092.2C1040.2,1093.0 1044.8,1091.3 1048.2,1089.5C1052.1,1087.5 1055.5,1083.8 1059.0,1080.0" stroke-width="10.5"/>
<path d="M1107.8,1004.1C1102.9,1007.8 1097.9,1011.5 1094.3,1016.3C1090.7,1021.0 1087.7,1027.0 1086.1,1032.5C1084.7,1037.8 1083.4,1044.5 1084.8,1048.8C1085.9,1052.3 1088.4,1055.3 1091.6,1057.0C1095.5,1059.0 1102.5,1059.0 1107.8,1058.3C1113.3,1057.7 1119.7,1055.6 1124.1,1052.9C1128.1,1050.5 1133.4,1046.2 1133.6,1043.4C1133.8,1041.4 1131.6,1039.0 1129.5,1038.0C1127.0,1036.7 1121.4,1036.5 1118.7,1038.0C1116.1,1039.4 1114.2,1043.0 1113.3,1046.1C1112.3,1049.3 1112.8,1053.2 1113.3,1057.0" stroke-width="10.5"/>
<path d="M1098.4,1202.1C1088.7,1218.6 1079.0,1235.1 1069.9,1252.3C1060.5,1269.9 1051.6,1287.9 1042.7,1306.5C1033.5,1325.8 1023.3,1347.8 1015.6,1366.2C1009.2,1381.7 1004.3,1395.6 999.3,1409.6" stroke-width="12"/>
<path d="M1031.9,1309.2C1044.2,1313.0 1056.5,1316.8 1069.9,1320.1C1084.4,1323.6 1100.2,1326.6 1116.0,1329.6" stroke-width="12"/>
<path d="M727.8,544.6C746.5,549.4 765.2,554.3 782.3,560.4C798.0,566.0 811.5,572.2 826.6,579.4C843.1,587.2 860.6,596.2 877.2,606.0C894.3,616.0 911.0,627.2 927.8,638.9C945.3,651.1 965.8,666.7 980.0,678.1C990.2,686.3 996.1,691.6 1005.6,700.0C1017.8,710.8 1034.0,725.5 1046.8,738.0C1058.4,749.4 1068.6,759.9 1079.3,771.6C1090.3,783.7 1101.8,796.8 1111.9,809.6C1121.6,821.8 1129.2,831.0 1139.0,846.5C1153.8,869.8 1176.0,917.9 1188.5,938.0C1195.0,948.4 1198.6,952.5 1204.8,960.8C1212.6,971.2 1222.1,984.4 1231.9,995.5C1241.9,1006.8 1253.3,1018.0 1264.4,1028.0C1275.0,1037.5 1284.0,1046.4 1297.0,1054.1C1312.7,1063.5 1336.0,1071.5 1353.4,1078.0C1367.9,1083.4 1378.1,1086.6 1394.1,1091.0C1416.5,1097.2 1447.4,1102.6 1475.5,1110.0C1506.2,1118.1 1541.0,1127.9 1571.2,1138.0C1598.9,1147.3 1627.6,1158.3 1650.0,1168.0C1667.3,1175.5 1680.0,1182.5 1695.0,1190.0C1710.0,1197.5 1725.0,1205.1 1740.0,1213.0C1755.3,1221.1 1770.8,1229.5 1786.0,1238.0C1801.1,1246.5 1816.8,1255.2 1831.0,1264.0C1844.2,1272.2 1854.8,1278.9 1868.5,1289.0C1886.7,1302.4 1912.3,1323.8 1929.5,1338.7C1942.6,1350.1 1952.2,1359.0 1963.4,1369.9C1974.9,1381.1 1986.0,1392.8 1997.4,1405.0C2009.5,1417.9 2021.7,1431.7 2033.9,1445.5" stroke-width="11.5"/>
<path d="M685.4,574.6C689.7,576.1 694.0,577.5 700.0,579.4C709.7,582.4 725.4,586.4 738.0,590.8C750.8,595.3 762.6,600.0 776.0,606.0C791.8,613.1 810.0,622.0 826.6,631.3C843.7,640.9 860.6,651.5 877.2,662.9C894.3,674.6 912.5,687.9 927.8,700.9C941.8,712.8 954.3,726.2 965.8,737.6C975.6,747.3 983.2,755.3 992.5,765.1C1002.9,776.2 1014.4,788.5 1025.1,800.9C1036.1,813.7 1047.2,825.9 1057.6,841.0C1069.6,858.4 1080.6,881.0 1091.9,900.0C1102.5,918.0 1112.9,934.3 1123.4,952.1C1134.2,970.5 1146.1,991.9 1155.9,1008.5C1163.8,1021.8 1169.6,1032.6 1177.6,1044.3C1185.9,1056.4 1194.0,1068.8 1204.8,1080.0C1216.6,1092.2 1230.9,1104.0 1246.2,1113.9C1262.5,1124.5 1281.1,1132.7 1300.4,1141.0C1321.5,1150.0 1346.9,1157.3 1368.2,1165.4C1387.3,1172.7 1401.8,1179.0 1422.4,1187.1C1449.6,1197.8 1486.8,1210.7 1517.0,1224.0C1545.8,1236.7 1575.9,1252.5 1600.0,1264.7C1618.8,1274.3 1633.7,1282.0 1650.0,1291.0C1665.8,1299.7 1678.2,1307.0 1696.4,1317.7C1722.8,1333.2 1761.3,1354.3 1792.9,1375.6C1825.6,1397.6 1857.7,1421.9 1889.3,1447.9C1922.0,1474.8 1957.3,1505.4 1985.7,1534.7C2011.2,1560.9 2032.2,1587.6 2053.2,1614.2" stroke-width="11.5"/>
<path d="M1716.5,249.6C1746.9,290.6 1777.3,331.6 1808.2,373.0C1839.5,415.0 1877.0,465.0 1903.2,499.6C1921.5,523.8 1935.7,541.4 1950.0,561.2C1962.9,579.1 1972.3,595.0 1985.6,613.3C2001.0,634.6 2021.9,659.3 2037.6,681.1C2051.7,700.6 2062.7,717.9 2076.0,737.6C2090.5,759.1 2107.4,783.7 2121.2,805.4C2133.6,825.0 2145.1,842.3 2155.2,862.0C2165.5,882.1 2172.9,904.8 2182.3,925.0C2191.2,944.1 2200.6,962.2 2210.0,980.2" stroke-width="11"/>
<path d="M1830.4,279.7C1844.8,292.4 1859.3,305.1 1871.5,319.2C1883.5,333.0 1893.6,348.5 1903.2,363.5C1912.5,378.0 1919.6,393.4 1928.5,407.8C1937.3,422.2 1944.4,434.4 1956.3,450.0C1973.0,471.9 2000.1,500.0 2022.0,525.0C2043.8,550.0 2064.7,573.4 2087.4,600.0C2112.7,629.6 2144.0,666.7 2166.5,694.7C2183.9,716.4 2198.2,733.6 2211.7,753.4C2224.4,772.1 2235.9,791.2 2245.6,810.0C2254.5,827.4 2262.6,847.4 2268.2,862.0C2272.2,872.4 2274.7,880.7 2277.2,889.0" stroke-width="11"/>
<path d="M1440.2,880.7C1435.9,871.5 1431.6,862.3 1426.6,853.6C1421.7,845.1 1416.4,836.7 1410.4,829.2C1404.6,821.8 1398.0,815.3 1391.4,808.8C1419.5,796.3 1447.6,783.8 1475.5,772.2C1502.7,760.8 1529.6,750.1 1556.8,739.7C1583.9,729.3 1611.1,719.7 1638.2,709.8C1665.3,699.9 1692.4,689.5 1719.6,680.5C1746.4,671.6 1773.9,663.4 1800.0,656.0C1824.5,649.0 1850.2,642.2 1871.5,637.0C1888.6,632.9 1900.9,630.9 1917.8,626.9C1938.3,622.0 1961.7,614.8 1985.6,609.5C2011.9,603.7 2040.6,598.8 2069.3,594.0" stroke-width="11"/>
<path d="M1505.3,821.0C1531.4,812.8 1557.5,804.7 1584.0,796.6C1610.9,788.4 1637.8,780.0 1665.3,772.2C1693.4,764.2 1721.2,756.6 1750.8,749.2C1782.6,741.3 1817.7,734.1 1850.0,726.3C1880.9,718.9 1910.2,710.9 1940.4,703.7C1970.5,696.6 2009.2,688.0 2030.8,683.4C2042.9,680.8 2051.0,679.3 2059.1,677.7" stroke-width="11"/>
<path d="M1131.8,503.5C1129.0,504.6 1126.3,505.8 1125.2,507.8C1124.2,509.8 1124.4,513.0 1125.2,515.4C1126.3,518.1 1129.0,520.7 1131.8,523.0C1135.2,525.8 1139.9,527.9 1144.8,530.6C1150.8,533.9 1158.1,537.7 1165.4,541.4" stroke-width="10.5"/>
<path d="M1149.1,514.3C1147.0,516.8 1144.8,519.3 1142.6,521.9C1140.3,524.7 1137.9,527.6 1135.6,530.6" stroke-width="10.5"/>
<path d="M1144.2,461.7C1146.1,464.8 1147.9,467.9 1150.2,470.9C1152.7,474.2 1155.6,477.8 1158.9,480.7C1162.1,483.6 1165.9,486.0 1169.7,488.3C1173.8,490.7 1178.3,492.7 1182.7,494.8" stroke-width="10.5"/>
<path d="M1165.4,473.1C1162.6,474.6 1159.8,476.2 1157.8,478.5C1155.8,480.9 1154.6,484.0 1153.5,487.2" stroke-width="10.5"/>
<path d="M1199.6,473.1C1197.4,474.9 1195.2,476.7 1192.5,477.4C1189.6,478.1 1185.6,478.0 1182.7,476.9C1179.9,475.8 1176.7,473.4 1175.2,470.9C1173.7,468.5 1173.1,465.0 1173.5,462.2C1173.9,459.5 1175.6,456.5 1177.3,454.6C1178.8,453.0 1180.8,452.2 1182.7,451.4" stroke-width="10.5"/>
<path d="M1176.2,465.5C1179.0,464.6 1181.8,463.8 1183.8,462.2C1185.7,460.8 1186.9,458.8 1188.2,456.8" stroke-width="10.5"/>
<path d="M1189.3,436.2C1187.4,436.3 1184.7,439.2 1183.8,441.6C1182.8,444.4 1183.5,449.5 1184.9,452.5C1186.2,455.2 1189.1,458.6 1191.4,459.0C1193.5,459.3 1196.7,457.5 1197.9,455.7C1199.2,453.9 1199.5,450.6 1199.0,448.1C1198.5,445.5 1196.4,442.6 1194.7,440.5C1193.1,438.7 1191.0,436.1 1189.3,436.2Z" stroke-width="10.5"/>
<path d="M1192.5,436.2C1196.0,438.0 1199.5,439.7 1202.3,442.2C1204.9,444.5 1206.8,447.4 1208.8,450.3" stroke-width="10.5"/>
<path d="M1193.6,421.0C1197.1,423.1 1200.7,425.2 1204.4,427.5C1208.6,430.0 1213.0,432.8 1217.5,435.6" stroke-width="10.5"/>
<path d="M1205.0,403.6C1204.1,407.0 1203.2,410.4 1203.4,413.4C1203.5,416.1 1204.3,418.8 1205.5,421.0C1206.8,423.1 1208.9,424.8 1211.0,426.4" stroke-width="10.5"/>
<path d="M1220.2,383.6C1217.5,383.3 1214.8,383.0 1213.1,384.1C1211.4,385.3 1209.6,388.5 1209.9,390.6C1210.1,392.9 1213.0,395.9 1215.3,397.1C1217.7,398.4 1221.4,397.1 1224.0,398.2C1226.5,399.3 1229.8,401.4 1230.5,403.6C1231.1,405.8 1229.9,409.3 1228.3,411.2C1226.7,413.3 1223.2,414.9 1220.7,415.6C1218.7,416.1 1216.7,415.8 1214.8,415.6" stroke-width="10.5"/>
<path d="M1129.6,554.5C1129.6,552.2 1130.8,549.1 1132.4,547.5C1134.0,545.8 1137.0,544.5 1139.3,544.5C1141.7,544.5 1144.7,545.8 1146.3,547.5C1147.9,549.1 1149.1,552.2 1149.1,554.5C1149.1,556.9 1147.9,559.9 1146.3,561.6C1144.7,563.2 1141.7,564.5 1139.3,564.5C1137.0,564.5 1134.0,563.2 1132.4,561.6C1130.8,559.9 1129.6,556.9 1129.6,554.5Z" stroke-width="10.5"/>
<path d="M1103.5,572.1L1132.3,605.7" stroke-width="10.5"/>
<path d="M1106.3,609.0L1121.4,623.1" stroke-width="10.5"/>
<path d="M1094.9,629.6C1092.4,629.7 1087.8,632.4 1086.2,635.0C1084.6,637.5 1084.4,641.7 1085.1,644.8C1085.8,647.9 1088.1,651.9 1090.5,653.5C1092.6,654.8 1095.8,655.3 1098.1,654.5C1100.9,653.6 1104.5,649.8 1105.7,646.9C1106.8,644.3 1106.8,640.8 1105.7,638.3C1104.6,635.7 1101.3,633.2 1099.2,631.8C1097.7,630.7 1096.5,629.5 1094.9,629.6Z" stroke-width="10.5"/>
<path d="M1094.9,630.7C1097.7,631.2 1100.6,631.7 1103.5,632.8C1107.0,634.1 1110.7,636.2 1114.4,638.3" stroke-width="10.5"/>
<path d="M1064.5,665.4C1067.7,668.4 1070.9,671.3 1074.2,674.1C1077.5,676.7 1080.7,679.2 1084.0,681.7" stroke-width="10.5"/>
<path d="M1079.1,644.8C1076.8,645.9 1074.4,647.1 1073.2,649.1C1071.8,651.3 1071.2,654.9 1071.5,657.8C1071.9,660.7 1073.7,663.4 1075.3,666.5C1077.3,670.2 1080.1,674.3 1082.9,678.4" stroke-width="10.5"/>
<path d="M1042.1,673.1C1043.5,679.5 1045.0,685.8 1047.5,690.8C1049.7,695.0 1052.4,698.6 1055.7,701.6C1058.8,704.5 1062.7,706.4 1066.5,708.4" stroke-width="10.5"/>
<path d="M1040.7,689.4L1054.3,674.5" stroke-width="10.5"/>
<path d="M1261.8,558.4C1259.0,559.3 1256.3,560.2 1254.6,562.0C1252.9,563.8 1251.5,566.9 1251.5,569.2C1251.6,571.3 1253.0,574.1 1254.6,575.3C1256.1,576.4 1258.9,577.0 1260.7,576.3C1262.8,575.6 1264.4,572.5 1265.9,570.2C1267.4,567.7 1268.8,561.8 1269.5,562.0C1270.1,562.1 1269.8,568.7 1269.5,572.2C1269.0,576.2 1268.3,580.9 1266.9,584.5C1265.6,587.7 1263.9,591.0 1261.8,592.7C1260.0,594.1 1257.6,595.1 1255.6,594.8C1253.3,594.4 1251.1,592.0 1249.0,589.6" stroke-width="10"/>
<path d="M1295.6,562.0C1297.7,562.5 1300.6,564.6 1301.7,567.1C1303.1,570.3 1302.7,577.0 1301.2,580.4C1299.9,583.3 1297.1,586.3 1294.6,587.1C1292.1,587.8 1288.2,587.1 1286.4,585.5C1284.4,583.9 1283.5,580.2 1283.3,577.3C1283.1,574.4 1284.0,570.6 1285.3,568.1C1286.5,566.0 1288.6,564.0 1290.5,563.0C1292.0,562.2 1293.9,561.5 1295.6,562.0Z" stroke-width="10"/>
<path d="M1322.2,558.9C1324.0,559.7 1326.5,563.2 1327.3,566.1C1328.4,569.5 1328.4,575.4 1326.8,578.4C1325.6,580.8 1322.6,583.0 1320.2,583.5C1317.9,583.9 1314.5,583.1 1313.0,581.4C1311.3,579.6 1311.3,575.2 1311.5,572.2C1311.7,569.4 1312.7,566.2 1314.0,564.0C1315.2,562.1 1317.1,560.2 1318.6,559.4C1319.8,558.8 1321.1,558.4 1322.2,558.9Z" stroke-width="10"/>
<path d="M1348.9,565.1C1345.9,565.8 1342.9,566.5 1340.7,568.1C1338.5,569.7 1336.2,571.9 1335.5,574.3C1334.8,576.7 1335.2,580.8 1336.6,582.5C1337.8,584.0 1340.9,585.0 1342.7,584.5C1344.7,583.9 1346.4,580.7 1347.8,578.4C1349.5,575.7 1350.7,572.4 1351.9,569.2" stroke-width="10"/>
<path d="M1358.1,539.4C1357.2,546.0 1356.4,552.5 1355.5,559.9C1354.5,568.6 1353.5,578.3 1352.5,588.1" stroke-width="10"/>
<path d="M1271.0,603.0C1268.8,602.6 1266.5,602.2 1264.8,603.0C1263.1,603.8 1260.9,606.3 1260.7,608.1C1260.6,609.8 1262.1,612.1 1263.8,613.2C1265.9,614.5 1270.8,613.0 1273.0,614.2C1275.0,615.3 1276.9,617.5 1277.1,619.4C1277.3,621.3 1275.6,624.1 1274.1,625.5C1272.5,626.8 1270.0,627.8 1267.9,627.6C1265.3,627.2 1262.5,624.8 1259.7,622.4" stroke-width="10"/>
<path d="M1296.6,607.1C1296.2,610.2 1295.7,613.4 1295.6,616.3C1295.4,618.8 1294.7,621.6 1295.6,623.5C1296.5,625.3 1299.0,627.7 1300.7,627.6C1302.5,627.5 1304.8,624.6 1305.8,622.4C1307.0,620.0 1306.7,616.0 1306.9,613.2C1307.0,611.0 1306.9,609.0 1306.9,607.1" stroke-width="10"/>
<path d="M1330.4,603.0C1328.2,603.3 1326.0,603.7 1324.3,605.0C1322.5,606.4 1319.9,609.6 1320.2,611.2C1320.4,612.5 1322.6,613.5 1324.3,614.2C1326.2,615.1 1329.9,614.1 1331.4,615.3C1332.8,616.3 1333.6,618.7 1333.5,620.4C1333.4,622.1 1331.9,624.6 1330.4,625.5C1328.9,626.4 1326.0,626.1 1324.3,625.5C1322.7,625.0 1321.4,623.7 1320.2,622.4" stroke-width="10"/>
<path d="M1348.4,593.7L1346.3,627.6" stroke-width="10"/>
<path d="M1347.8,618.3C1349.4,614.7 1350.9,611.0 1353.0,610.1C1354.5,609.5 1356.7,609.8 1358.1,611.2C1361.0,614.1 1361.6,623.9 1362.2,633.7" stroke-width="10"/>
<path d="M1381.7,611.2L1380.6,635.8" stroke-width="10"/>
<path d="M1927.7,304.6C1930.3,309.8 1932.9,315.1 1935.3,319.1C1937.1,322.1 1938.7,324.4 1940.4,326.7" stroke-width="10"/>
<path d="M1925.2,293.2C1927.2,290.9 1929.1,288.6 1931.5,287.5C1933.8,286.4 1936.6,285.7 1939.1,286.2C1942.0,286.7 1945.6,288.9 1948.0,291.3C1950.5,293.8 1952.8,297.9 1953.7,301.4C1954.5,304.7 1954.4,308.2 1953.7,311.5C1952.9,315.0 1951.3,318.9 1949.2,321.6C1947.4,324.1 1944.5,326.7 1942.3,327.3C1940.7,327.8 1939.3,327.2 1937.8,326.7" stroke-width="10"/>
<path d="M1960.6,273.5C1962.3,277.1 1963.9,280.6 1965.7,283.7C1967.3,286.4 1968.6,289.4 1970.8,291.3C1972.8,293.1 1975.9,295.0 1978.4,295.1C1980.5,295.2 1983.4,294.3 1984.7,292.5C1986.3,290.3 1985.7,284.8 1985.3,281.1C1985.0,277.6 1984.2,273.8 1982.8,271.0C1981.5,268.7 1979.6,267.0 1977.7,265.3" stroke-width="10"/>
<path d="M2003.7,284.3C2002.4,280.4 2001.1,276.5 1999.2,272.3C1997.0,267.2 1994.0,261.5 1991.0,255.8C1994.2,258.7 1997.5,261.6 2001.1,264.1C2005.0,266.7 2009.4,268.8 2013.8,271.0C2018.3,273.3 2023.0,275.3 2027.7,277.3C2025.7,272.1 2023.6,266.9 2021.4,262.2C2019.4,257.7 2017.2,253.3 2015.1,249.5C2013.2,246.2 2011.3,243.4 2009.4,240.6" stroke-width="10"/>
<path d="M2047.3,244.4C2049.6,249.5 2051.8,254.5 2054.3,258.4C2056.3,261.4 2058.5,263.7 2060.6,265.9" stroke-width="10"/>
<path d="M2043.5,231.8C2045.3,231.4 2047.1,231.0 2049.2,231.1C2051.9,231.3 2055.4,231.5 2058.1,233.0C2061.3,234.8 2065.1,238.4 2067.0,241.9C2068.8,245.2 2069.6,249.7 2069.5,253.3C2069.4,256.4 2068.6,259.9 2067.0,262.2C2065.5,264.2 2063.1,265.4 2060.6,266.6" stroke-width="10"/>
<path d="M2097.3,202.0C2094.8,204.0 2092.2,206.0 2089.7,207.7C2087.6,209.3 2085.5,210.7 2083.4,212.2" stroke-width="10"/>
<path d="M2082.2,217.2C2082.3,222.1 2082.4,227.0 2082.8,231.8C2083.2,236.5 2083.3,241.7 2084.7,245.7C2085.8,249.1 2087.6,252.8 2089.7,254.6C2091.4,255.9 2093.8,256.9 2095.4,256.5C2097.2,256.1 2099.5,253.4 2099.9,252.0C2100.1,251.1 2099.7,250.3 2099.2,249.5" stroke-width="10"/>
<path d="M2087.2,234.3C2089.0,232.6 2090.7,230.9 2092.3,229.2C2093.7,227.7 2094.9,226.3 2096.1,224.8" stroke-width="10"/>
<path d="M2116.3,206.5L2123.9,241.9" stroke-width="10"/>
<path d="M2116.3,202.7C2119.2,200.4 2122.0,198.2 2125.2,197.6C2128.4,197.0 2133.2,197.4 2135.3,198.9C2136.9,200.0 2137.6,202.0 2137.8,203.9C2138.2,206.2 2137.5,209.1 2136.6,211.5C2135.5,214.2 2133.5,217.0 2131.5,219.1C2129.7,221.1 2127.4,222.7 2125.2,224.2" stroke-width="10"/>
<path d="M2127.7,222.9C2131.0,225.7 2134.3,228.5 2137.8,231.8C2142.0,235.7 2146.6,240.4 2151.1,245.1" stroke-width="10"/>
<path d="M1955.6,365.3C1958.8,366.8 1962.0,368.4 1965.7,369.1C1969.8,370.0 1974.4,369.8 1979.0,369.7C1979.2,362.2 1979.4,354.6 1979.6,347.0C1984.0,353.1 1988.4,359.3 1992.3,364.7C1995.5,369.2 1998.3,373.3 2001.1,377.3" stroke-width="10"/>
<path d="M1964.4,371.0L1967.0,393.8" stroke-width="10"/>
<path d="M2001.1,338.1C2004.4,343.2 2007.7,348.3 2011.3,353.3C2014.9,358.4 2018.8,363.4 2022.7,368.5" stroke-width="10"/>
<path d="M2017.6,321.6C2020.6,326.0 2023.7,330.4 2026.5,335.6C2029.7,341.6 2032.5,348.7 2035.3,355.8" stroke-width="10"/>
<path d="M2017.6,321.6C2021.0,321.0 2024.4,320.3 2027.7,319.1C2031.2,317.8 2034.5,315.9 2037.8,314.1" stroke-width="10"/>
<path d="M2031.5,338.1C2034.1,337.0 2036.8,335.8 2039.1,334.3C2041.4,332.8 2043.4,331.0 2045.4,329.2" stroke-width="10"/>
<path d="M2055.6,305.2C2056.5,311.1 2057.5,317.1 2059.4,322.9C2061.3,328.9 2064.1,334.8 2067.0,340.6" stroke-width="10"/>
<path d="M2055.6,305.2C2058.6,304.5 2061.5,303.9 2064.4,302.7C2067.5,301.4 2070.4,299.5 2073.3,297.6" stroke-width="10"/>
<path d="M2065.7,326.7C2068.5,325.5 2071.3,324.4 2073.3,322.9C2074.9,321.8 2076.0,320.4 2077.1,319.1" stroke-width="10"/>
<path d="M2091.6,291.3C2093.0,300.7 2094.3,310.1 2096.1,316.6C2097.2,320.8 2097.7,325.7 2099.9,326.7C2101.7,327.6 2105.1,325.5 2107.5,324.2C2110.1,322.7 2112.6,320.3 2115.1,317.8" stroke-width="10"/>
<path d="M2121.4,286.2L2129.0,311.5" stroke-width="10"/>
<path d="M2150.5,303.9C2148.3,300.7 2146.0,297.5 2144.2,293.8C2142.1,289.6 2140.6,284.7 2139.1,279.9C2142.8,282.3 2146.5,284.7 2150.5,287.5C2154.9,290.6 2159.7,294.1 2164.4,297.6C2163.2,292.1 2161.9,286.7 2160.6,281.1C2159.4,275.5 2158.1,269.8 2156.8,264.1" stroke-width="10"/>
<path d="M2106.3,452.3C2114.9,450.8 2123.4,449.2 2132.3,449.2C2141.7,449.1 2151.7,450.7 2161.3,452.3C2171.0,454.0 2180.5,457.5 2190.2,459.3C2199.8,461.0 2209.0,462.3 2219.1,462.7C2230.2,463.2 2246.4,460.8 2253.9,461.7C2257.5,462.2 2260.1,462.3 2261.8,463.9C2263.5,465.5 2263.7,467.8 2264.3,471.1C2265.4,477.9 2265.0,492.0 2264.7,503.0C2264.4,514.6 2263.8,526.6 2262.5,539.1C2261.1,553.0 2258.8,569.6 2256.0,582.5C2253.8,593.2 2250.9,602.3 2248.1,611.5C2239.8,609.5 2231.6,607.5 2222.0,605.7C2210.4,603.5 2196.3,601.2 2183.0,599.9C2169.3,598.5 2154.2,598.2 2141.0,597.7C2129.3,597.3 2118.5,597.1 2107.7,597.0C2106.9,587.6 2106.1,578.2 2106.3,568.1C2106.5,556.7 2107.8,543.7 2109.2,531.9C2110.5,520.6 2113.8,508.9 2114.2,498.6C2114.7,489.8 2114.3,481.6 2112.8,474.0C2111.5,467.2 2106.9,458.8 2106.3,455.2C2106.1,453.9 2106.2,453.1 2106.3,452.3" stroke-width="12.3"/>
<path d="M2087.5,429.9C2089.2,435.1 2090.9,440.2 2092.5,445.1C2094.1,449.6 2097.9,454.8 2096.9,458.1C2096.0,461.0 2092.0,462.8 2088.9,464.6C2085.6,466.7 2081.2,468.1 2077.4,469.7C2073.7,471.2 2070.1,472.6 2066.5,474.0" stroke-width="10"/>
<path d="M2139.6,399.5C2140.2,402.5 2140.8,405.4 2142.5,407.5C2144.1,409.5 2147.1,411.3 2149.7,411.8C2152.4,412.3 2155.4,411.7 2158.4,410.4C2162.5,408.6 2166.9,404.4 2171.4,400.3" stroke-width="9.7"/>
<path d="M2152.6,413.3C2152.1,417.8 2151.6,422.4 2151.9,426.3C2152.0,429.5 2152.7,432.2 2153.3,435.0" stroke-width="9.7"/>
<path d="M2190.2,403.1C2192.7,403.5 2196.8,406.2 2198.9,408.9C2201.1,411.9 2202.9,417.0 2202.5,420.5C2202.1,423.7 2199.9,427.5 2197.4,429.2C2194.9,430.9 2190.2,431.4 2187.3,430.6C2184.5,429.9 2181.3,427.5 2180.1,424.8C2178.6,421.9 2179.0,416.7 2180.1,413.3C2181.1,410.0 2183.8,406.2 2185.9,404.6C2187.2,403.5 2188.6,402.9 2190.2,403.1Z" stroke-width="9.7"/>
<path d="M2217.0,403.9C2216.4,409.9 2215.7,416.0 2217.0,420.5C2217.9,424.0 2219.7,427.7 2222.0,429.2C2224.0,430.4 2227.2,430.7 2229.3,429.9C2231.6,429.0 2233.5,426.0 2235.0,423.4C2236.7,420.5 2237.6,416.8 2238.7,413.3C2239.8,409.6 2240.7,405.6 2241.6,401.7" stroke-width="9.7"/>
<path d="M2133.8,526.1C2136.0,522.8 2138.2,519.5 2141.0,516.0C2144.3,511.8 2148.5,507.4 2152.6,503.0C2152.6,507.9 2152.6,512.7 2152.6,517.4C2152.6,521.9 2152.6,526.2 2152.6,530.5" stroke-width="9.7"/>
<path d="M2129.4,515.3C2133.6,517.0 2137.8,518.8 2141.0,518.9C2143.3,518.9 2145.0,518.2 2146.8,517.4" stroke-width="9.7"/>
<path d="M2172.1,526.1C2172.8,520.3 2173.6,514.5 2174.3,510.2C2174.8,507.3 2175.3,505.1 2175.7,503.0C2178.8,502.2 2181.9,501.5 2184.4,502.2C2186.9,503.0 2190.0,505.1 2190.9,507.3C2191.8,509.6 2191.0,514.1 2189.5,516.0C2188.1,517.7 2185.2,518.4 2183.0,518.9C2180.7,519.4 2178.2,519.1 2175.7,518.9" stroke-width="9.7"/>
<path d="M2178.6,518.9L2187.3,531.2" stroke-width="9.7"/>
<path d="M2201.8,505.9L2219.1,505.9" stroke-width="9.7"/>
<path d="M2201.8,507.3C2202.0,511.2 2202.3,515.0 2202.5,518.9C2202.7,522.7 2201.0,528.0 2203.2,530.5C2205.8,533.4 2212.5,533.4 2219.1,533.3" stroke-width="9.7"/>
<path d="M2202.5,518.9L2216.2,518.2" stroke-width="9.7"/>
<path d="M2135.9,553.6C2135.3,558.4 2134.6,563.1 2133.8,568.1C2132.9,573.2 2131.9,578.6 2130.9,584.0" stroke-width="9.7"/>
<path d="M2151.1,548.5C2151.3,555.0 2151.4,561.5 2151.1,568.1C2150.9,574.8 2150.3,581.5 2149.7,588.3" stroke-width="9.7"/>
<path d="M2135.2,566.6L2156.9,568.1" stroke-width="9.7"/>
<path d="M2164.2,550.7L2183.0,551.4" stroke-width="9.7"/>
<path d="M2164.2,552.2C2163.9,558.0 2163.6,563.8 2163.4,569.5C2163.3,574.9 2160.8,582.5 2163.4,585.4C2166.2,588.4 2173.1,587.6 2180.1,586.9" stroke-width="9.7"/>
<path d="M2164.2,568.1L2180.1,568.1" stroke-width="9.7"/>
<path d="M2193.1,556.5C2192.8,561.4 2192.5,566.4 2192.4,571.0C2192.3,575.0 2192.3,578.8 2192.4,582.5" stroke-width="9.7"/>
<path d="M2193.1,553.6C2196.2,552.5 2199.3,551.4 2201.8,552.2C2204.1,552.9 2206.9,555.7 2207.6,557.9C2208.2,560.1 2207.5,563.5 2206.1,565.2C2204.7,566.9 2201.2,567.6 2198.9,568.1C2196.9,568.4 2195.0,568.3 2193.1,568.1" stroke-width="9.7"/>
<path d="M2198.9,568.1L2209.0,585.4" stroke-width="9.7"/>
<path d="M2217.7,552.2L2235.0,552.9" stroke-width="9.7"/>
<path d="M2218.4,553.6C2218.0,559.5 2217.6,565.4 2217.0,571.0C2216.4,576.0 2212.8,583.3 2214.8,585.4C2216.8,587.5 2222.7,585.7 2228.5,584.0" stroke-width="9.7"/>
<path d="M2217.7,568.1L2232.2,568.1" stroke-width="9.7"/>
<path d="M1795.3,1019.3C1792.0,1020.1 1788.6,1020.8 1785.6,1022.5C1782.4,1024.4 1778.9,1027.1 1776.9,1030.1C1775.0,1033.0 1773.2,1037.0 1773.6,1039.9C1774.1,1042.7 1776.6,1046.6 1779.1,1047.5C1781.6,1048.5 1785.8,1046.8 1788.8,1045.3C1792.0,1043.7 1794.9,1040.5 1797.5,1037.7C1800.1,1034.9 1802.3,1031.7 1804.6,1028.5C1806.7,1030.7 1808.9,1032.8 1810.5,1035.6C1812.4,1038.7 1813.9,1042.4 1814.9,1046.4C1815.9,1051.0 1816.2,1057.0 1815.9,1061.6C1815.7,1065.5 1815.6,1069.6 1813.8,1072.5C1812.0,1075.3 1808.0,1078.4 1805.1,1079.0C1802.6,1079.4 1800.1,1078.1 1797.5,1076.8" stroke-width="9.3"/>
<path d="M1831.1,1020.4C1829.1,1019.5 1827.0,1018.5 1825.7,1019.3C1824.2,1020.2 1823.6,1024.3 1823.5,1026.9C1823.5,1029.7 1824.2,1034.1 1825.7,1035.6C1826.8,1036.6 1828.6,1037.0 1830.1,1036.7C1831.9,1036.3 1833.7,1033.4 1835.5,1032.3C1837.0,1031.4 1838.5,1030.0 1839.8,1030.1C1841.2,1030.2 1842.4,1031.6 1843.6,1032.9" stroke-width="9.3"/>
<path d="M1849.6,1016.0C1851.2,1018.9 1852.7,1021.8 1855.0,1023.6C1857.1,1025.3 1860.2,1027.0 1862.6,1026.9C1864.9,1026.8 1867.4,1025.2 1869.1,1023.6C1870.9,1022.0 1871.9,1019.6 1872.9,1017.1" stroke-width="9.3"/>
<path d="M1873.5,1018.2C1872.4,1023.0 1871.4,1027.8 1870.2,1033.4C1868.6,1040.5 1866.9,1049.3 1864.8,1057.3C1862.6,1065.4 1859.9,1073.5 1857.2,1081.7" stroke-width="9.3"/>
<path d="M1772.5,1085.5C1773.8,1093.2 1775.1,1100.9 1775.8,1107.2C1776.4,1112.1 1776.9,1116.1 1776.9,1120.2C1776.9,1124.0 1776.3,1127.5 1775.8,1131.0" stroke-width="9.3"/>
<path d="M1771.5,1110.4C1768.1,1110.7 1764.6,1111.0 1761.7,1112.6C1758.4,1114.4 1754.8,1118.0 1753.0,1121.3C1751.4,1124.2 1750.3,1128.1 1750.8,1131.0C1751.4,1133.9 1753.8,1137.7 1756.3,1138.6C1758.8,1139.6 1763.0,1137.7 1766.0,1136.5C1769.1,1135.2 1771.9,1133.1 1774.7,1131.0" stroke-width="9.3"/>
<path d="M1795.3,1112.6C1796.8,1116.0 1798.2,1119.5 1799.1,1123.5C1800.2,1128.0 1800.5,1133.3 1800.8,1138.6" stroke-width="9.3"/>
<path d="M1824.6,1109.3C1822.2,1110.2 1819.8,1111.1 1818.1,1112.6C1816.6,1114.0 1814.9,1116.2 1814.9,1118.0C1814.9,1119.8 1816.5,1122.2 1818.1,1123.5C1820.0,1124.9 1823.7,1124.3 1825.7,1125.6C1827.6,1126.9 1829.8,1129.1 1830.1,1131.0C1830.3,1133.1 1828.5,1136.3 1826.8,1137.6C1825.2,1138.8 1822.0,1139.0 1820.3,1138.6C1818.9,1138.4 1818.0,1137.4 1817.0,1136.5" stroke-width="9.3"/>
<path d="M1845.8,1085.5C1845.5,1089.9 1845.2,1094.4 1845.2,1098.5C1845.3,1102.3 1845.3,1105.5 1845.8,1109.3C1846.3,1113.8 1847.4,1119.0 1848.5,1123.5C1849.6,1127.6 1850.9,1131.5 1852.3,1135.4" stroke-width="9.3"/>
<path d="M1837.1,1103.4C1839.8,1103.2 1842.6,1103.0 1845.2,1102.8C1847.8,1102.7 1850.3,1102.5 1852.8,1102.3" stroke-width="9.3"/>
<path d="M1870.2,1105.0C1870.3,1108.6 1870.5,1112.3 1871.3,1115.9C1872.1,1119.5 1873.6,1123.1 1875.1,1126.7" stroke-width="9.3"/>
<path d="M1874.5,1105.0C1876.6,1104.4 1878.7,1103.8 1881.0,1102.8C1884.0,1101.7 1887.4,1100.1 1890.8,1098.5" stroke-width="9.3"/>
<path d="M1908.7,1105.0C1909.2,1109.0 1909.7,1113.0 1910.3,1116.9C1911.0,1120.8 1911.7,1124.6 1912.5,1128.3" stroke-width="9.3"/>
<path d="M1933.7,1097.4C1931.5,1097.4 1929.4,1097.4 1927.7,1098.5C1925.8,1099.7 1924.0,1102.4 1923.4,1105.0C1922.6,1108.1 1923.0,1112.8 1924.4,1115.9C1925.9,1118.9 1929.2,1122.5 1932.0,1123.5C1934.6,1124.3 1938.3,1123.6 1940.7,1122.4C1943.2,1121.1 1944.9,1118.5 1946.7,1115.9" stroke-width="9.3"/>
<path d="M1954.3,1055.1C1954.3,1060.3 1954.3,1065.6 1954.8,1071.4C1955.4,1078.1 1956.7,1086.1 1958.1,1093.1C1959.4,1099.8 1961.2,1106.2 1963.0,1112.6" stroke-width="9.3"/>
<path d="M1930.4,1068.1C1934.6,1066.8 1938.7,1065.5 1942.9,1064.9C1946.9,1064.3 1950.9,1064.2 1954.8,1064.3C1958.7,1064.4 1962.4,1064.9 1966.2,1065.4" stroke-width="9.3"/>
<path d="M1371.4,1371.7C1369.3,1370.5 1367.2,1369.3 1365.1,1369.4C1363.0,1369.6 1360.0,1370.8 1358.8,1372.6C1357.4,1374.5 1357.1,1378.3 1357.9,1380.7C1358.6,1383.2 1361.8,1384.7 1363.3,1387.1C1364.8,1389.5 1367.2,1393.0 1366.9,1395.2C1366.7,1397.0 1364.8,1399.4 1363.3,1399.7C1361.8,1400.1 1359.5,1398.4 1357.9,1397.0C1356.1,1395.5 1354.7,1393.1 1353.3,1390.7" stroke-width="9"/>
<path d="M1386.8,1380.7C1387.9,1382.6 1389.0,1384.4 1390.4,1386.2C1392.0,1388.1 1393.9,1389.8 1395.8,1391.6" stroke-width="9"/>
<path d="M1406.7,1369.0C1404.2,1373.5 1401.6,1378.1 1399.5,1382.5C1397.4,1386.8 1396.0,1391.2 1394.0,1395.2C1392.2,1399.0 1390.2,1402.5 1388.2,1406.1" stroke-width="9"/>
<path d="M1435.6,1397.9C1432.8,1398.1 1429.9,1398.2 1427.5,1399.3C1425.1,1400.3 1422.7,1402.1 1421.2,1404.2C1419.6,1406.5 1418.3,1409.8 1418.4,1412.4C1418.6,1414.9 1420.2,1418.7 1422.1,1419.6C1423.7,1420.5 1426.7,1419.8 1428.4,1418.7C1430.1,1417.7 1431.0,1414.9 1432.0,1413.3C1432.8,1412.0 1433.5,1409.6 1433.8,1409.7C1434.2,1409.8 1434.1,1413.2 1433.8,1415.1C1433.5,1417.1 1433.1,1419.9 1432.0,1421.4C1431.1,1422.7 1429.8,1423.4 1428.4,1424.1" stroke-width="9"/>
<path d="M1448.3,1401.5C1447.9,1403.7 1447.6,1405.9 1448.3,1407.9C1449.0,1409.9 1450.9,1412.2 1452.8,1413.3C1454.6,1414.3 1457.0,1414.2 1459.1,1414.2C1461.5,1414.2 1465.4,1412.3 1466.4,1413.3C1467.2,1414.1 1466.4,1417.2 1465.5,1418.7C1464.3,1420.6 1461.8,1421.5 1459.1,1423.2C1454.7,1426.0 1447.3,1429.8 1441.0,1433.2C1434.4,1436.8 1427.3,1440.4 1420.3,1444.0" stroke-width="9"/>
<path d="M1336.2,1409.7C1334.0,1410.0 1331.8,1410.4 1329.8,1411.5C1327.6,1412.7 1324.9,1414.9 1323.5,1416.9C1322.4,1418.6 1321.1,1421.1 1321.7,1422.3C1322.2,1423.4 1324.6,1424.2 1326.2,1424.1C1328.2,1424.1 1330.5,1422.2 1332.5,1421.4C1334.4,1420.7 1337.5,1419.0 1338.0,1419.6C1338.8,1420.7 1334.3,1426.9 1329.8,1433.2" stroke-width="9"/>
<path d="M1347.9,1420.5C1346.6,1424.4 1345.3,1428.4 1345.2,1431.4C1345.1,1433.5 1345.2,1436.5 1346.1,1436.8C1347.1,1437.1 1349.3,1434.3 1351.5,1431.4" stroke-width="9"/>
<path d="M1354.2,1431.4C1354.5,1434.8 1354.7,1438.2 1356.1,1440.4C1357.1,1442.1 1358.9,1443.9 1360.6,1444.0C1362.5,1444.2 1364.7,1442.1 1366.9,1440.4C1369.8,1438.2 1372.9,1434.8 1375.9,1431.4" stroke-width="9"/>
<path d="M1368.7,1455.3C1371.4,1452.6 1374.2,1449.9 1376.9,1446.7C1379.9,1443.2 1382.9,1439.1 1385.9,1435.0C1388.1,1434.5 1390.2,1434.1 1391.3,1435.0C1392.5,1436.0 1392.2,1438.9 1392.2,1441.3C1392.2,1444.6 1391.2,1449.2 1390.4,1453.1C1389.7,1457.0 1388.7,1460.9 1387.7,1464.8" stroke-width="9"/>
<path d="M1376.9,1451.3L1391.3,1453.1" stroke-width="9"/>
<path d="M1414.8,1454.9C1414.2,1457.0 1413.5,1459.1 1413.5,1461.2C1413.5,1463.3 1413.7,1465.9 1414.8,1467.5C1416.0,1469.2 1418.3,1470.7 1420.3,1471.2C1422.2,1471.6 1424.6,1470.7 1426.6,1470.3C1428.5,1469.8 1431.4,1467.8 1432.0,1468.4C1432.6,1469.0 1431.5,1472.2 1430.2,1473.9C1428.5,1476.2 1424.9,1477.6 1421.2,1480.2C1415.0,1484.4 1405.9,1490.4 1396.7,1496.5" stroke-width="9"/>
<path d="M1281.4,1309.2C1283.9,1307.4 1286.3,1305.6 1289.5,1304.3C1293.3,1302.7 1297.9,1302.0 1303.1,1301.1C1310.0,1299.9 1318.3,1299.4 1327.5,1298.3C1339.3,1296.8 1354.8,1295.6 1368.2,1292.9C1381.8,1290.2 1393.3,1287.2 1408.5,1282.1C1429.3,1275.2 1459.5,1265.2 1480.8,1253.2C1500.0,1242.4 1515.7,1228.8 1531.5,1215.2" stroke-width="11"/>
<path d="M680.5,350.6C671.8,353.2 663.1,355.7 654.5,358.8C646.1,361.9 637.7,365.3 629.5,369.0C621.3,372.7 613.3,376.8 605.4,381.0C597.4,385.2 589.6,389.8 581.9,394.4C574.1,399.1 566.5,404.1 558.9,409.1C551.3,414.1 543.8,419.3 536.4,424.6C528.9,429.8 521.5,435.2 514.1,440.7C506.7,446.1 499.4,451.6 492.0,457.1C484.6,462.5 477.3,468.0 469.9,473.5C462.5,478.9 455.1,484.3 447.7,489.6C440.2,494.9 432.7,500.1 425.2,505.2C417.6,510.2 410.0,515.2 402.3,519.9C394.6,524.6 386.7,529.1 378.9,533.5" stroke-width="12.5"/>
<path d="M378.9,533.5C389.1,549.3 399.2,565.2 409.0,579.0C417.5,591.0 425.6,601.8 434.0,612.0C441.6,621.3 449.7,629.7 457.0,638.0C463.6,645.5 469.8,652.6 476.0,659.6C484.8,658.0 493.5,656.4 502.0,653.9C510.4,651.5 517.8,648.7 526.5,645.0C536.9,640.6 548.5,634.9 560.0,628.7C572.9,621.8 586.7,612.9 600.0,605.0C613.3,597.0 625.5,590.0 640.0,581.0C657.7,570.0 678.3,557.4 698.2,543.5C720.2,528.1 751.4,504.4 766.1,492.0C773.7,485.6 778.1,481.1 782.5,476.6" stroke-width="12.5"/>
<path d="M782.5,476.6C779.9,472.5 777.3,468.4 774.7,464.4C772.0,460.3 769.2,456.4 766.5,452.4C763.7,448.4 760.9,444.5 758.0,440.6C755.2,436.6 752.3,432.8 749.4,428.9C746.5,425.0 743.6,421.1 740.8,417.2C737.9,413.3 735.0,409.4 732.1,405.5C729.3,401.6 726.4,397.7 723.6,393.7C720.8,389.8 718.1,385.8 715.4,381.8C712.7,377.8 710.0,373.7 707.4,369.7C704.8,365.6 702.3,361.4 699.8,357.2C697.4,353.1 695.1,348.8 692.8,344.5" stroke-width="12.5"/>
<path d="M780.3,920.5C777.3,920.9 774.4,921.2 772.7,923.0C770.7,925.1 769.9,929.8 770.1,933.2C770.3,936.6 771.8,940.9 773.9,943.3C775.8,945.4 779.1,947.2 781.5,947.1C783.7,947.0 785.8,945.1 787.8,943.3" stroke-width="10"/>
<path d="M798.0,935.7C801.6,935.2 805.3,934.8 808.1,933.2C810.7,931.7 814.2,929.1 814.4,926.8C814.7,924.8 812.6,921.4 810.6,920.5C808.5,919.5 804.1,920.2 801.8,921.8C799.3,923.4 797.3,927.5 796.7,930.6C796.1,933.8 796.2,938.2 798.0,940.8C799.8,943.4 804.6,945.3 808.1,945.8C811.4,946.3 814.8,945.1 818.2,943.9" stroke-width="10"/>
<path d="M827.7,916.7C828.6,921.3 829.5,925.8 830.9,929.4C832.0,932.1 833.6,936.4 834.7,936.3C835.7,936.3 836.7,932.1 837.5,930.0C838.2,927.9 838.5,923.7 839.1,923.7C839.7,923.7 840.4,927.9 841.0,930.0C841.6,932.1 841.8,936.1 842.9,936.3C844.1,936.6 846.5,932.4 848.0,930.6C849.3,929.1 850.2,926.1 851.4,926.2C853.1,926.3 855.0,931.0 856.8,935.7" stroke-width="10"/>
<path d="M881.5,934.4C885.8,932.2 890.1,929.9 891.6,926.8C892.9,924.3 892.9,920.0 891.6,918.0C890.4,916.1 887.2,914.7 884.7,914.8C881.6,914.9 877.1,917.7 874.6,920.5C871.9,923.4 869.3,928.3 869.5,931.9C869.7,935.4 872.4,939.9 875.2,942.0C877.8,944.0 882.1,945.0 885.3,944.6C888.6,944.1 891.7,941.5 894.8,938.9" stroke-width="10"/>
<path d="M911.3,899.0C910.2,905.3 909.2,911.7 909.4,918.0C909.6,924.3 911.1,930.6 912.5,937.0" stroke-width="10"/>
<path d="M900.5,914.2C904.4,915.7 908.2,917.3 911.9,916.7C915.8,916.1 919.6,912.9 923.3,909.7" stroke-width="10"/>
<path d="M929.6,931.9C932.6,930.5 935.5,929.0 937.2,926.8C938.8,924.8 940.5,921.2 939.7,919.2C939.1,917.4 935.7,915.6 933.4,915.4C930.8,915.3 926.7,917.1 924.6,919.2C922.4,921.4 920.7,925.1 920.8,928.1C920.9,931.4 923.2,936.1 925.8,938.2C928.3,940.2 932.7,941.4 935.9,940.8C939.5,940.0 942.8,936.6 946.1,933.2" stroke-width="10"/>
<path d="M956.2,909.1C957.0,912.7 957.8,916.3 958.7,919.2C959.5,921.6 960.4,923.6 961.3,925.6" stroke-width="10"/>
<path d="M960.0,914.2C962.9,912.5 965.9,910.8 968.9,910.4C971.8,910.0 975.2,910.4 977.7,911.6C980.3,912.9 982.2,915.4 984.1,918.0" stroke-width="10"/>
<path d="M998.6,910.4C998.1,915.1 997.6,919.8 999.2,923.0C1000.7,925.9 1003.8,927.6 1006.8,929.4" stroke-width="10"/>
<path d="M1013.2,910.4C1012.4,922.4 1011.7,934.4 1010.6,943.3C1009.9,949.3 1009.1,953.3 1008.1,958.5C1007.0,963.9 1005.7,969.4 1004.3,974.9" stroke-width="10"/>
<path d="M305.1,1037.0C305.3,1034.2 305.6,1031.5 307.1,1029.5C308.8,1027.3 312.5,1024.9 315.3,1024.8C318.0,1024.7 321.8,1026.8 323.4,1028.8C324.8,1030.7 325.1,1033.8 324.8,1036.3C324.4,1039.2 321.7,1042.9 320.7,1045.1C320.1,1046.5 319.7,1047.5 319.3,1048.5" stroke-width="9.5"/>
<path d="M320.7,1051.9C324.8,1051.5 329.0,1051.1 332.9,1051.2C336.6,1051.3 340.2,1052.0 343.7,1052.6" stroke-width="9.5"/>
<path d="M309.2,1039.7C311.2,1045.1 313.2,1050.5 315.9,1054.6C318.3,1058.2 321.2,1060.8 324.1,1063.4" stroke-width="9.5"/>
<path d="M341.7,1037.0C340.0,1031.8 338.3,1026.6 338.6,1022.1C338.8,1018.1 340.6,1014.7 342.4,1011.2C345.7,1014.7 349.0,1018.1 351.9,1022.1C354.9,1026.2 357.5,1030.9 360.0,1035.6" stroke-width="9.5"/>
<path d="M335.6,1031.6C339.0,1030.6 342.4,1029.6 345.1,1028.8C347.2,1028.3 348.8,1027.9 350.5,1027.5" stroke-width="9.5"/>
<path d="M364.8,999.7C367.3,1005.9 369.9,1012.1 372.2,1016.6C373.9,1019.9 375.4,1022.3 377.0,1024.8" stroke-width="9.5"/>
<path d="M366.8,996.3C369.5,993.7 372.2,991.0 374.9,990.9C377.6,990.7 380.8,992.7 383.1,994.9C385.9,997.7 389.0,1002.9 389.9,1007.1C390.6,1011.1 390.3,1016.4 388.5,1019.3C386.9,1022.0 382.6,1024.1 380.4,1024.8C379.1,1025.2 378.0,1025.0 377.0,1024.8" stroke-width="9.5"/>
<path d="M397.3,977.3C398.8,983.3 400.3,989.2 402.1,994.9C403.7,1000.5 405.6,1005.9 407.5,1011.2" stroke-width="9.5"/>
<path d="M424.4,961.7C422.0,963.0 419.6,964.3 418.3,966.5C416.9,968.9 416.6,973.1 417.0,975.9C417.3,978.4 418.1,981.0 419.7,982.7C421.5,984.7 425.8,984.7 427.8,986.8C430.0,989.1 431.8,993.2 431.9,996.3C432.0,999.1 430.8,1002.9 429.2,1004.4C427.9,1005.7 425.2,1006.4 423.8,1005.8C422.2,1005.1 421.3,1002.4 420.4,999.7" stroke-width="9.5"/>
<path d="M438.0,956.3C438.6,961.9 439.3,967.5 440.0,973.2C440.8,979.1 441.8,985.0 442.7,990.9" stroke-width="9.5"/>
<path d="M452.2,945.4C452.4,952.8 452.6,960.1 453.6,967.8C454.7,976.1 456.9,984.9 459.0,993.6" stroke-width="9.5"/>
<path d="M441.4,971.9L455.0,967.8" stroke-width="9.5"/>
<path d="M479.4,933.9C475.5,934.1 471.6,934.3 469.9,936.6C467.7,939.5 469.6,946.7 469.9,951.5C470.1,956.2 470.2,961.7 471.2,965.1C471.9,967.4 472.9,969.0 473.9,970.5" stroke-width="9.5"/>
<path d="M472.6,950.2L482.1,946.1" stroke-width="9.5"/>
<path d="M473.9,970.5C476.8,969.5 479.7,968.5 482.1,966.5C484.8,964.2 486.8,960.6 488.9,957.0" stroke-width="9.5"/>
<path d="M510.6,925.8C507.4,926.3 504.2,926.9 502.4,928.5C500.9,929.8 499.6,932.1 499.7,933.9C499.9,935.8 501.8,938.2 503.8,939.3C506.1,940.7 510.3,939.6 513.3,940.7C516.2,941.8 519.9,943.7 521.4,946.1C522.8,948.3 523.9,952.4 522.8,954.2C521.7,956.1 517.5,957.2 514.6,957.0C511.2,956.6 507.5,953.7 503.8,950.9" stroke-width="9.5"/>
<path d="M148.5,1246.7C148.7,1240.7 148.9,1234.6 149.2,1228.6C149.4,1222.8 150.9,1214.5 149.9,1211.3C149.4,1209.8 148.6,1209.1 147.7,1208.4" stroke-width="9.5"/>
<path d="M146.3,1208.4C149.1,1205.7 152.0,1203.0 155.0,1202.6C157.8,1202.2 161.7,1203.6 163.7,1205.5C165.6,1207.4 166.7,1211.2 166.5,1214.2C166.4,1217.4 164.6,1221.6 162.2,1224.3C159.8,1227.0 155.9,1228.5 152.1,1230.1" stroke-width="9.5"/>
<path d="M172.3,1246.0C174.2,1240.5 176.0,1235.0 178.1,1228.6C180.7,1221.0 183.8,1212.1 186.8,1203.3C187.7,1208.8 188.5,1214.4 189.7,1219.9C190.9,1225.7 192.5,1232.0 194.0,1237.3C195.4,1242.0 196.9,1246.2 198.4,1250.3" stroke-width="9.5"/>
<path d="M179.6,1240.2C182.0,1238.8 184.4,1237.3 186.8,1235.9C189.2,1234.4 191.6,1233.0 194.0,1231.5" stroke-width="9.5"/>
<path d="M211.4,1240.9C209.4,1235.8 207.5,1230.8 207.1,1225.7C206.6,1220.9 207.6,1216.1 208.5,1211.3" stroke-width="9.5"/>
<path d="M202.7,1202.6C205.1,1201.5 207.5,1200.4 209.9,1200.4C212.4,1200.4 215.3,1201.0 217.2,1202.6C219.3,1204.4 221.2,1208.1 221.5,1211.3C221.9,1214.8 220.2,1220.1 218.6,1222.8C217.5,1224.8 215.9,1226.0 214.3,1227.2" stroke-width="9.5"/>
<path d="M214.3,1227.2C217.7,1230.2 221.1,1233.1 224.4,1235.9C227.6,1238.4 230.7,1240.8 233.8,1243.1" stroke-width="9.5"/>
<path d="M261.3,1191.0C258.4,1192.8 255.4,1194.5 253.3,1196.8C251.4,1198.9 249.5,1201.4 249.0,1204.0C248.5,1206.7 249.0,1210.5 250.5,1212.7C251.9,1214.8 256.6,1215.1 257.7,1217.1C258.6,1218.7 258.5,1221.2 257.7,1222.8C256.8,1224.7 254.2,1226.4 251.9,1227.2C249.4,1228.0 245.9,1227.7 243.2,1227.2C240.8,1226.7 238.8,1225.5 236.7,1224.3" stroke-width="9.5"/>
<path d="M278.7,1219.9C278.6,1214.7 278.5,1209.5 278.7,1205.5C278.8,1202.7 279.1,1200.4 279.4,1198.2C282.2,1202.1 285.1,1206.0 288.1,1209.8C291.1,1213.7 294.3,1217.5 297.5,1221.4C298.4,1218.1 299.3,1214.8 299.6,1211.3C300.0,1207.6 300.0,1203.5 299.6,1199.7C299.3,1196.0 298.4,1192.4 297.5,1188.8" stroke-width="9.5"/>
<path d="M314.1,1193.9C314.6,1199.7 315.1,1205.5 315.6,1211.3C316.0,1217.1 316.5,1222.8 317.0,1228.6" stroke-width="9.5"/>
<path d="M332.2,1219.9C331.3,1212.8 330.5,1205.7 330.7,1199.7C331.0,1194.9 331.9,1190.8 332.9,1186.7" stroke-width="9.5"/>
<path d="M332.9,1186.7C334.8,1183.9 336.7,1181.0 338.7,1180.9C340.6,1180.8 343.3,1183.2 344.5,1185.2C345.8,1187.4 346.2,1191.0 345.9,1193.9C345.7,1196.8 345.0,1200.7 343.0,1202.6C341.1,1204.5 337.7,1205.0 334.4,1205.5" stroke-width="9.5"/>
<path d="M374.9,1175.8C372.6,1176.2 370.4,1176.6 369.1,1178.0C367.6,1179.6 366.7,1182.9 366.9,1185.2C367.1,1187.7 369.1,1190.3 370.5,1192.5C372.0,1194.6 374.8,1196.2 375.6,1198.2C376.3,1200.1 376.5,1202.6 375.6,1204.0C374.6,1205.6 371.3,1206.5 369.1,1206.9C367.0,1207.4 364.8,1207.2 362.6,1206.9" stroke-width="9.5"/>
<path d="M443.4,1136.1C447.2,1133.7 451.0,1131.4 455.0,1129.6C458.8,1127.8 462.7,1126.5 466.5,1125.2" stroke-width="9"/>
<path d="M454.2,1133.2C454.2,1138.2 454.2,1143.2 455.0,1148.4C455.8,1154.0 457.6,1159.9 459.3,1165.7" stroke-width="9"/>
<path d="M472.3,1138.2C472.1,1143.0 471.9,1147.8 473.8,1149.8C475.3,1151.4 478.6,1151.9 481.0,1151.3C484.0,1150.5 487.8,1147.1 489.7,1144.0C491.7,1140.9 492.4,1136.3 492.6,1132.5C492.8,1128.6 492.0,1124.8 491.1,1120.9" stroke-width="9"/>
<path d="M505.6,1114.4C506.3,1118.4 507.1,1122.5 507.8,1126.7C508.5,1131.1 509.2,1135.8 509.9,1140.4" stroke-width="9"/>
<path d="M509.2,1110.8C512.0,1108.2 514.7,1105.6 517.2,1105.7C519.5,1105.8 522.7,1108.6 523.7,1110.8C524.6,1112.9 523.9,1116.3 523.0,1118.7C522.0,1121.2 518.7,1122.9 517.9,1125.2C517.2,1127.3 517.0,1129.8 517.9,1131.7C518.9,1134.0 522.1,1136.2 524.4,1137.5C526.5,1138.7 528.7,1139.2 530.9,1139.7" stroke-width="9"/>
<path d="M538.9,1131.7C538.7,1126.3 538.6,1120.9 538.2,1116.5C537.8,1113.2 537.3,1110.6 536.7,1107.9C539.9,1111.8 543.0,1115.7 546.1,1119.4C549.0,1122.9 551.9,1126.3 554.8,1129.6C555.1,1123.1 555.4,1116.7 555.5,1110.8C555.6,1105.4 555.6,1100.5 555.5,1095.6" stroke-width="9"/>
<path d="M568.5,1091.2C569.3,1096.7 570.0,1102.3 570.7,1107.9C571.4,1113.6 572.2,1119.4 572.9,1125.2" stroke-width="9"/>
<path d="M593.1,1115.1C592.3,1110.5 591.4,1105.8 591.0,1100.6C590.4,1094.6 590.3,1087.9 590.2,1081.1" stroke-width="9"/>
<path d="M590.2,1081.1C591.2,1078.9 592.2,1076.7 593.9,1076.0C595.6,1075.4 598.9,1076.1 600.4,1077.5C602.0,1079.1 602.6,1083.3 602.5,1086.2C602.4,1089.1 601.1,1092.2 599.6,1094.8C598.2,1097.5 596.0,1099.8 593.9,1102.1" stroke-width="9"/>
<path d="M632.9,1064.5C630.3,1064.6 627.6,1064.7 625.7,1065.9C623.8,1067.1 621.2,1070.0 621.3,1071.7C621.5,1073.3 623.7,1075.1 625.7,1076.0C628.2,1077.3 633.3,1076.0 635.8,1077.5C637.9,1078.7 640.0,1081.3 640.1,1083.3C640.3,1085.2 638.8,1087.3 637.3,1089.1C635.3,1091.3 632.0,1093.3 628.6,1094.8C624.3,1096.8 618.9,1098.0 613.4,1099.2" stroke-width="9"/>
<path d="M399.0,1349.5C399.2,1343.0 399.4,1336.5 399.7,1330.5C399.9,1325.3 400.1,1320.4 400.4,1315.6" stroke-width="9.8"/>
<path d="M401.0,1310.9C404.8,1310.2 408.6,1309.6 411.9,1310.5C415.0,1311.3 419.3,1313.2 420.3,1315.6C421.2,1317.8 420.2,1321.6 418.7,1323.7C417.1,1326.0 410.9,1326.5 410.5,1328.5C410.2,1330.4 415.3,1332.7 415.9,1335.3C416.6,1337.7 416.1,1341.3 414.6,1343.4C412.8,1345.8 408.1,1347.1 405.1,1348.2C402.5,1349.0 400.1,1349.3 397.6,1349.5" stroke-width="9.8"/>
<path d="M437.0,1346.8C437.3,1341.3 437.5,1335.8 437.6,1330.5C437.8,1325.4 437.7,1320.5 437.6,1315.6" stroke-width="9.8"/>
<path d="M434.9,1315.6C439.2,1315.1 443.4,1314.6 447.1,1314.2C450.3,1314.0 453.1,1313.8 456.0,1313.6" stroke-width="9.8"/>
<path d="M433.6,1330.5L445.8,1329.2" stroke-width="9.8"/>
<path d="M437.0,1346.8C440.8,1346.4 444.5,1346.0 447.1,1345.4C448.8,1345.1 450.0,1344.6 451.2,1344.1" stroke-width="9.8"/>
<path d="M471.6,1353.6C472.9,1347.3 474.2,1341.1 474.9,1334.6C475.8,1328.0 476.0,1321.1 476.3,1314.2" stroke-width="9.8"/>
<path d="M476.3,1314.2C479.9,1313.5 483.4,1312.8 486.5,1312.9C489.0,1313.0 491.1,1313.6 493.3,1314.2" stroke-width="9.8"/>
<path d="M477.0,1329.2L487.8,1329.2" stroke-width="9.8"/>
<path d="M471.6,1353.6C475.8,1352.2 480.1,1350.7 483.8,1349.5C486.7,1348.5 489.3,1347.7 491.9,1346.8" stroke-width="9.8"/>
<path d="M515.0,1320.4C520.0,1320.2 525.0,1320.0 529.9,1319.7C534.5,1319.3 539.0,1318.8 543.4,1318.3" stroke-width="9.8"/>
<path d="M530.6,1322.4C530.3,1327.8 530.1,1333.1 529.9,1338.7C529.6,1344.4 529.4,1350.4 529.2,1356.3" stroke-width="9.8"/>
<path d="M570.6,1323.7C568.3,1322.9 566.0,1322.0 563.8,1322.4C561.4,1322.8 558.2,1324.4 557.0,1326.5C555.7,1328.7 555.9,1333.2 557.0,1335.9C558.1,1338.7 562.2,1340.0 563.8,1342.7C565.4,1345.5 567.0,1349.4 566.5,1352.2C566.0,1354.8 563.4,1357.9 561.1,1359.0C558.8,1360.1 555.3,1359.8 552.9,1359.0C550.8,1358.3 549.2,1356.6 547.5,1354.9" stroke-width="9.8"/>
<path d="M976.4,1326.3C975.3,1323.1 974.2,1319.8 971.7,1316.9C968.3,1313.0 962.3,1309.0 956.4,1306.3C949.6,1303.3 940.1,1302.8 932.9,1300.5C926.5,1298.4 920.2,1297.0 915.3,1293.4C910.4,1289.9 907.2,1284.6 903.5,1279.3C899.3,1273.4 894.3,1266.8 891.8,1259.3C889.0,1251.2 887.1,1240.8 888.2,1232.3C889.3,1224.0 892.8,1216.1 897.6,1208.8C903.2,1200.3 912.4,1191.9 921.1,1185.3C930.0,1178.6 941.0,1172.3 950.5,1168.8C958.6,1165.8 966.7,1164.3 974.0,1164.1C980.3,1163.9 986.5,1165.1 991.7,1166.5C996.1,1167.6 1000.2,1169.6 1003.4,1171.2C1005.8,1172.3 1007.5,1173.5 1009.3,1174.7" stroke-width="13"/>
<path d="M990.5,1178.2C992.7,1177.9 994.9,1177.5 997.5,1177.0C1001.0,1176.4 1005.1,1175.5 1009.3,1174.7" stroke-width="13"/>
<path d="M992.8,1178.2C996.4,1178.6 1000.0,1178.9 1003.4,1180.6C1007.5,1182.5 1011.5,1186.1 1015.2,1190.0C1019.4,1194.5 1022.7,1201.9 1026.9,1206.4C1030.6,1210.3 1034.8,1213.6 1038.7,1215.8C1041.8,1217.6 1046.1,1217.0 1048.1,1219.3C1050.4,1222.1 1050.5,1227.7 1050.4,1232.3C1050.4,1237.4 1048.9,1243.6 1046.9,1248.7C1045.0,1253.8 1042.0,1259.4 1038.7,1262.8C1035.9,1265.7 1030.4,1265.9 1029.3,1268.7C1028.1,1271.5 1030.3,1276.2 1031.6,1279.3C1032.8,1282.0 1035.5,1283.6 1036.3,1286.3C1037.3,1289.4 1036.8,1293.2 1036.3,1296.9" stroke-width="13"/>
<path d="M986.4,1299.3C998.7,1289.5 1011.0,1279.8 1016.3,1281.6C1019.6,1282.8 1019.0,1289.8 1021.0,1293.4C1023.1,1296.9 1025.9,1299.8 1028.7,1302.8" stroke-width="9.5"/>
<path d="M986.4,1299.9C987.6,1303.7 988.8,1307.4 990.5,1311.0C992.3,1314.7 994.6,1318.2 997.0,1321.6" stroke-width="9.5"/>
<path d="M1001.1,1295.8C1002.6,1299.4 1004.1,1303.1 1005.8,1306.3C1007.3,1309.3 1008.9,1311.9 1010.5,1314.6" stroke-width="9.5"/>
<path d="M1012.8,1289.9C1014.3,1293.2 1015.8,1296.4 1017.5,1299.3C1019.1,1301.9 1021.0,1304.1 1022.8,1306.3" stroke-width="9.5"/>
<path d="M923.5,1326.3C932.4,1328.6 941.3,1330.8 950.5,1332.2C960.1,1333.6 971.4,1335.6 979.9,1334.5C986.6,1333.7 991.8,1331.1 997.5,1328.7C1003.5,1326.1 1009.8,1322.9 1015.2,1319.3C1020.3,1315.8 1024.8,1311.6 1029.3,1307.5" stroke-width="13"/>
</g>
<g fill="#000">
<circle cx="946.5" cy="1269.9" r="11.0"/>
<circle cx="999.3" cy="1240.1" r="11.0"/>
<circle cx="1091.1" cy="590.5" r="5.0"/>
<circle cx="1391.9" cy="584.5" r="4.6"/>
<circle cx="2183.0" cy="482.0" r="12.3"/>
<circle cx="1909.3" cy="1082.8" r="5.0"/>
</g>
</svg>
</body></html>
